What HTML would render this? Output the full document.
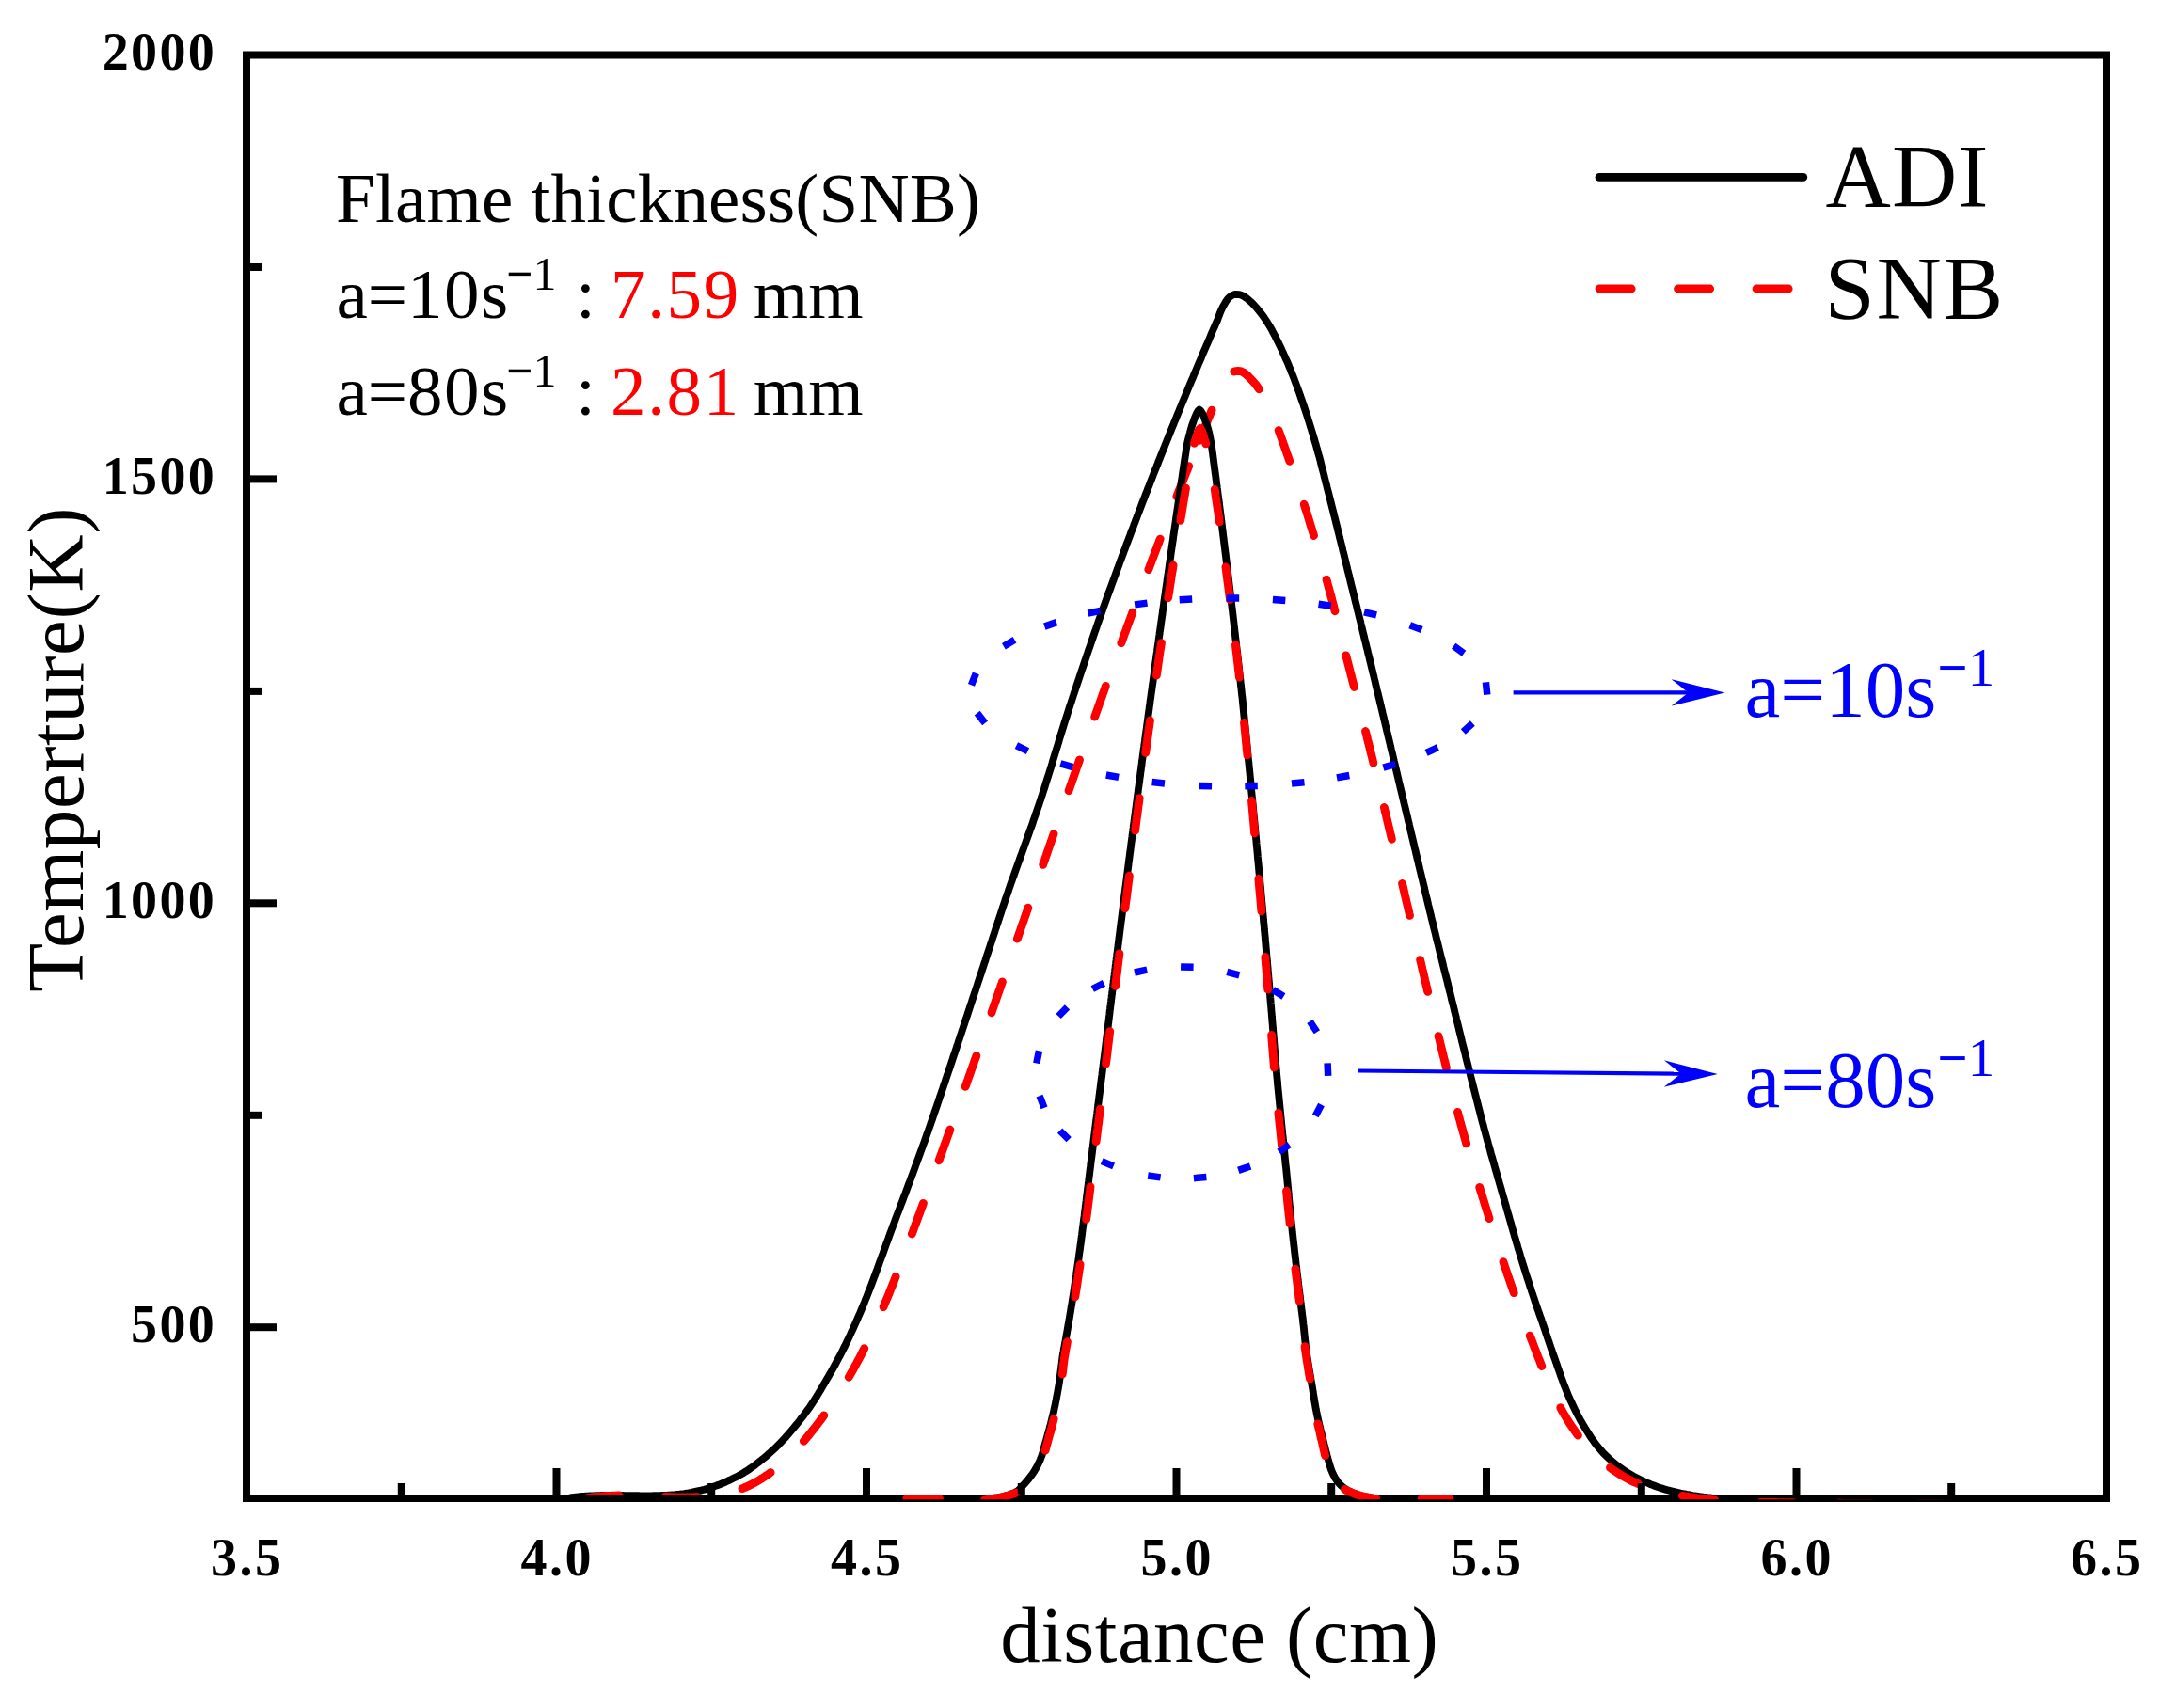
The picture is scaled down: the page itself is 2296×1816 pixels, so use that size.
<!DOCTYPE html>
<html lang="en"><head><meta charset="utf-8"><title>Temperature profiles</title>
<style>html,body{margin:0;padding:0;background:#fff}svg{display:block}text{font-family:"Liberation Serif","Times New Roman",serif}</style></head><body>
<svg xmlns="http://www.w3.org/2000/svg" width="2296" height="1816" viewBox="0 0 2296 1816">
<rect width="2296" height="1816" fill="#fff"/>
<defs><clipPath id="plot"><rect x="258" y="54" width="1985" height="1540.2"/></clipPath><clipPath id="band"><rect x="955" y="1588.4" width="1281" height="5.8"/></clipPath></defs>
<g fill="none" stroke-linejoin="round" clip-path="url(#plot)">
<path d="M262.0 1593.4L599.9 1593.4L601.2 1593.2L603.1 1592.9L605.3 1592.6L607.7 1592.2L610.1 1591.9L612.4 1591.6L614.4 1591.4L616.5 1591.2L618.6 1591.0L620.7 1590.9L622.8 1590.7L624.8 1590.6L626.9 1590.5L629.0 1590.4L631.1 1590.3L633.2 1590.2L635.3 1590.1L637.3 1590.1L639.4 1590.0L641.5 1590.0L643.6 1590.0L645.7 1590.0L647.7 1589.9L649.8 1589.9L651.9 1589.9L654.0 1589.9L656.0 1590.0L658.1 1590.0L660.1 1590.0L662.2 1590.0L664.3 1590.1L666.3 1590.1L668.4 1590.1L670.4 1590.1L672.5 1590.2L674.5 1590.2L676.6 1590.2L678.6 1590.2L680.6 1590.3L682.7 1590.3L684.7 1590.3L686.7 1590.3L688.7 1590.3L690.7 1590.3L692.7 1590.3L694.8 1590.2L696.8 1590.2L698.7 1590.1L701.1 1590.1L703.5 1590.0L705.9 1589.9L708.3 1589.8L710.7 1589.6L713.1 1589.5L715.5 1589.3L717.8 1589.1L720.2 1588.8L722.6 1588.6L724.9 1588.3L727.3 1588.0L729.7 1587.6L732.0 1587.3L734.4 1586.9L736.8 1586.4L739.1 1585.9L741.5 1585.4L743.9 1584.9L746.2 1584.3L748.6 1583.7L751.0 1583.0L753.4 1582.3L755.8 1581.5L758.2 1580.7L760.6 1579.9L763.1 1579.0L765.5 1578.1L767.9 1577.1L770.3 1576.1L772.7 1575.0L775.1 1573.9L777.5 1572.8L779.9 1571.6L782.3 1570.4L784.7 1569.2L787.0 1567.9L789.3 1566.6L791.5 1565.2L793.7 1563.9L795.5 1562.7L797.2 1561.5L799.0 1560.3L800.7 1559.1L802.4 1557.8L804.1 1556.5L805.8 1555.2L807.4 1553.9L809.1 1552.6L810.7 1551.3L812.4 1549.9L814.0 1548.6L815.6 1547.2L817.2 1545.8L818.8 1544.4L820.4 1542.9L822.0 1541.5L823.5 1540.1L825.1 1538.6L826.6 1537.1L828.1 1535.7L829.5 1534.2L830.9 1532.7L832.3 1531.2L833.7 1529.7L835.1 1528.1L836.4 1526.6L837.8 1525.1L839.1 1523.5L840.4 1522.0L841.7 1520.5L843.1 1518.9L844.3 1517.4L845.6 1515.8L846.9 1514.2L848.2 1512.7L849.7 1510.8L851.1 1508.9L852.6 1507.0L854.1 1505.1L855.5 1503.2L856.9 1501.3L858.3 1499.4L859.7 1497.5L861.0 1495.6L862.3 1493.6L863.6 1491.7L864.8 1489.8L866.1 1487.8L867.3 1485.9L868.5 1483.9L869.7 1482.0L870.9 1480.0L872.1 1478.0L873.2 1476.0L874.4 1474.1L875.6 1472.1L876.8 1470.1L877.9 1468.1L879.1 1466.1L880.3 1464.1L881.4 1462.1L882.6 1460.1L883.7 1458.1L884.9 1456.0L886.0 1454.0L887.1 1452.0L888.2 1450.0L889.3 1447.9L890.4 1445.9L891.5 1443.8L892.6 1441.8L893.7 1439.7L894.7 1437.7L895.8 1435.6L896.8 1433.5L897.9 1431.5L898.9 1429.4L899.9 1427.3L900.9 1425.2L901.9 1423.1L902.9 1421.0L903.9 1418.9L904.8 1416.8L905.8 1414.7L906.8 1412.6L907.7 1410.5L908.7 1408.4L909.6 1406.3L910.6 1404.2L911.5 1402.0L912.4 1399.9L913.4 1397.8L914.3 1395.7L915.2 1393.5L916.1 1391.4L917.0 1389.2L917.9 1387.1L918.8 1384.9L919.6 1382.8L920.5 1380.6L921.4 1378.4L922.2 1376.3L923.1 1374.1L923.9 1371.9L924.8 1369.8L925.6 1367.6L926.5 1365.4L927.3 1363.2L928.1 1361.0L928.9 1358.8L929.8 1356.6L930.6 1354.4L931.4 1352.2L932.2 1350.0L933.0 1347.8L933.8 1345.6L934.6 1343.4L935.4 1341.2L936.2 1339.0L937.0 1336.8L937.7 1334.9L938.4 1333.1L939.1 1331.2L939.7 1329.4L940.4 1327.5L941.1 1325.7L941.7 1323.8L942.4 1321.9L943.1 1320.1L943.8 1318.2L944.5 1316.3L945.1 1314.5L945.8 1312.6L946.5 1310.7L947.2 1308.9L947.9 1307.0L948.6 1305.1L949.3 1303.2L950.0 1301.4L950.7 1299.5L951.4 1297.6L952.1 1295.7L952.8 1293.8L953.5 1291.9L954.2 1290.1L955.0 1288.2L955.7 1286.3L956.4 1284.4L957.1 1282.5L957.8 1280.6L958.6 1278.7L959.3 1276.8L960.0 1274.9L960.7 1273.0L961.4 1271.1L962.2 1269.2L962.9 1267.3L963.6 1265.4L964.3 1263.5L965.0 1261.6L965.7 1259.7L966.4 1257.8L967.2 1255.9L967.9 1254.0L968.6 1252.1L969.3 1250.2L970.0 1248.3L970.7 1246.4L971.4 1244.5L972.1 1242.6L972.8 1240.7L973.5 1238.7L974.2 1236.8L974.9 1234.9L975.6 1233.0L976.3 1231.1L977.0 1229.2L977.7 1227.3L978.4 1225.3L979.1 1223.4L979.8 1221.5L980.5 1219.6L981.2 1217.7L981.9 1215.7L982.6 1213.8L983.3 1211.9L983.9 1210.0L984.6 1208.1L985.3 1206.1L986.0 1204.2L986.7 1202.3L987.3 1200.4L988.0 1198.5L988.7 1196.5L989.4 1194.6L990.0 1192.7L990.7 1190.8L991.4 1188.8L992.0 1186.9L992.7 1185.0L993.3 1183.1L994.0 1181.1L994.7 1179.2L995.3 1177.3L996.0 1175.4L996.6 1173.4L997.3 1171.5L997.9 1169.6L998.6 1167.7L999.2 1165.7L999.9 1163.8L1000.6 1161.9L1001.2 1160.0L1001.9 1158.0L1002.5 1156.1L1003.2 1154.2L1003.8 1152.3L1004.5 1150.4L1005.1 1148.4L1005.7 1146.5L1006.4 1144.6L1007.0 1142.7L1007.7 1140.7L1008.3 1138.8L1009.0 1136.9L1009.6 1135.0L1010.3 1133.1L1010.9 1131.1L1011.6 1129.2L1012.2 1127.3L1012.8 1125.4L1013.5 1123.4L1014.1 1121.5L1014.8 1119.6L1015.4 1117.7L1016.0 1115.8L1016.7 1113.9L1017.3 1111.9L1018.0 1110.0L1018.6 1108.1L1019.2 1106.2L1019.9 1104.3L1020.5 1102.3L1021.2 1100.4L1021.8 1098.5L1022.4 1096.6L1023.1 1094.7L1023.7 1092.8L1024.3 1090.8L1025.0 1088.9L1025.6 1087.0L1026.2 1085.1L1026.9 1083.2L1027.5 1081.3L1028.2 1079.4L1028.8 1077.4L1029.4 1075.5L1030.1 1073.6L1030.7 1071.7L1031.3 1069.8L1031.9 1067.9L1032.6 1066.0L1033.2 1064.0L1033.8 1062.1L1034.5 1060.2L1035.1 1058.3L1035.7 1056.4L1036.4 1054.5L1037.0 1052.6L1037.6 1050.7L1038.3 1048.7L1038.9 1046.8L1039.5 1044.9L1040.1 1043.0L1040.8 1041.1L1041.4 1039.2L1042.0 1037.3L1042.7 1035.4L1043.3 1033.5L1043.9 1031.6L1044.5 1029.7L1045.2 1027.7L1045.8 1025.8L1046.4 1023.9L1047.1 1022.0L1047.7 1020.1L1048.3 1018.2L1048.9 1016.3L1049.6 1014.4L1050.2 1012.5L1050.8 1010.6L1051.5 1008.7L1052.1 1006.8L1052.7 1004.9L1053.3 1003.0L1054.0 1001.0L1054.6 999.1L1055.2 997.2L1055.8 995.3L1056.5 993.4L1057.1 991.5L1057.7 989.6L1058.3 987.7L1059.0 985.8L1059.6 983.9L1060.2 982.0L1060.9 980.1L1061.5 978.2L1062.1 976.3L1062.7 974.4L1063.4 972.5L1064.0 970.6L1064.6 968.7L1065.2 966.8L1065.9 964.9L1066.5 963.0L1067.1 961.1L1067.8 959.2L1068.5 956.9L1069.3 954.6L1070.1 952.3L1070.9 950.1L1071.7 947.8L1072.4 945.5L1073.2 943.2L1074.0 940.9L1074.8 938.7L1075.6 936.4L1076.4 934.1L1077.3 931.8L1078.1 929.6L1078.9 927.3L1079.7 925.0L1080.5 922.7L1081.3 920.5L1082.1 918.2L1083.0 915.9L1083.8 913.6L1084.6 911.4L1085.4 909.1L1086.3 906.8L1087.1 904.5L1087.9 902.3L1088.7 900.0L1089.5 897.7L1090.4 895.4L1091.2 893.2L1092.0 890.9L1092.8 888.6L1093.6 886.4L1094.4 884.1L1095.2 881.8L1096.1 879.5L1096.9 877.3L1097.7 875.0L1098.4 872.7L1099.2 870.5L1100.0 868.2L1100.8 865.9L1101.6 863.7L1102.4 861.4L1103.1 859.1L1103.9 856.9L1104.7 854.6L1105.4 852.3L1106.2 850.1L1106.9 847.8L1107.7 845.5L1108.4 843.3L1109.1 841.0L1109.9 838.7L1110.6 836.5L1111.3 834.2L1112.0 831.9L1112.7 829.7L1113.4 827.4L1114.2 825.1L1114.9 822.9L1115.6 820.6L1116.3 818.4L1117.0 816.1L1117.7 813.8L1118.4 811.6L1119.0 809.3L1119.7 807.0L1120.4 804.8L1121.1 802.5L1121.8 800.3L1122.5 798.0L1123.2 795.7L1123.9 793.5L1124.6 791.2L1125.3 789.0L1125.9 786.7L1126.6 784.4L1127.3 782.2L1128.0 779.9L1128.7 777.7L1129.4 775.4L1130.1 773.2L1130.8 770.9L1131.5 768.6L1132.2 766.4L1132.9 764.1L1133.7 761.9L1134.4 759.6L1135.1 757.4L1135.8 755.1L1136.5 752.9L1137.3 750.6L1138.0 748.3L1138.8 746.1L1139.5 743.8L1140.2 741.6L1141.0 739.3L1141.7 737.1L1142.5 734.8L1143.2 732.6L1144.0 730.3L1144.7 728.1L1145.5 725.8L1146.2 723.6L1147.0 721.3L1147.7 719.1L1148.5 716.8L1149.2 714.6L1150.0 712.3L1150.8 710.1L1151.5 707.8L1152.3 705.6L1153.0 703.3L1153.8 701.1L1154.6 698.8L1155.3 696.6L1156.1 694.3L1156.8 692.1L1157.6 689.8L1158.4 687.6L1159.2 685.3L1159.9 683.1L1160.7 680.8L1161.5 678.6L1162.2 676.3L1163.0 674.1L1163.8 671.8L1164.6 669.6L1165.4 667.3L1166.1 665.1L1166.9 662.9L1167.7 660.6L1168.5 658.4L1169.3 656.1L1170.1 653.9L1170.9 651.6L1171.7 649.4L1172.5 647.1L1173.3 644.9L1174.1 642.7L1174.9 640.4L1175.7 638.2L1176.5 635.9L1177.3 633.7L1178.1 631.4L1178.9 629.2L1179.8 627.0L1180.6 624.7L1181.4 622.5L1182.2 620.2L1183.0 618.0L1183.8 615.8L1184.7 613.5L1185.5 611.3L1186.3 609.0L1187.1 606.8L1188.0 604.6L1188.8 602.3L1189.6 600.1L1190.4 597.8L1191.3 595.6L1192.1 593.4L1192.9 591.1L1193.8 588.9L1194.6 586.7L1195.4 584.4L1196.3 582.2L1197.1 579.9L1197.9 577.7L1198.8 575.5L1199.6 573.2L1200.5 571.0L1201.3 568.8L1202.1 566.5L1203.0 564.3L1203.8 562.1L1204.7 559.8L1205.5 557.6L1206.4 555.4L1207.2 553.1L1208.1 550.9L1208.9 548.7L1209.8 546.4L1210.6 544.2L1211.5 542.0L1212.4 539.7L1213.2 537.5L1214.1 535.3L1214.9 533.0L1215.8 530.8L1216.7 528.6L1217.5 526.3L1218.4 524.1L1219.3 521.9L1220.1 519.6L1221.0 517.4L1221.9 515.2L1222.7 512.9L1223.6 510.7L1224.5 508.5L1225.4 506.2L1226.2 504.0L1227.1 501.8L1228.0 499.6L1228.9 497.3L1229.8 495.1L1230.7 492.9L1231.5 490.6L1232.4 488.4L1233.3 486.2L1234.0 484.3L1234.8 482.5L1235.5 480.6L1236.3 478.8L1237.0 476.9L1237.8 475.0L1238.5 473.2L1239.2 471.3L1240.0 469.5L1240.7 467.6L1241.5 465.8L1242.2 463.9L1243.0 462.1L1243.7 460.2L1244.5 458.3L1245.2 456.5L1246.0 454.6L1246.7 452.8L1247.5 450.9L1248.2 449.1L1249.0 447.2L1249.8 445.4L1250.5 443.5L1251.3 441.7L1252.0 439.8L1252.8 438.0L1253.6 436.1L1254.3 434.2L1255.1 432.4L1255.8 430.5L1256.6 428.7L1257.4 426.8L1258.1 425.0L1258.9 423.1L1259.7 421.3L1260.4 419.4L1261.2 417.6L1262.0 415.7L1262.7 413.9L1263.5 412.0L1264.3 410.2L1265.1 408.3L1265.8 406.5L1266.6 404.6L1267.4 402.8L1268.2 400.9L1268.9 399.1L1269.7 397.2L1270.5 395.4L1271.3 393.5L1272.1 391.7L1272.8 389.8L1273.6 388.0L1274.4 386.1L1275.2 384.3L1276.0 382.4L1276.8 380.6L1277.5 378.7L1278.3 376.9L1279.1 375.0L1279.9 373.2L1280.7 371.3L1281.5 369.5L1282.3 367.6L1283.1 365.8L1283.9 363.9L1284.7 362.1L1285.5 360.2L1286.2 358.4L1287.0 356.5L1287.8 354.7L1288.6 352.8L1289.4 351.0L1290.2 349.2L1291.0 347.4L1291.8 345.5L1292.6 343.7L1293.4 341.9L1294.3 339.7L1295.1 337.5L1295.9 335.3L1296.7 333.1L1297.6 331.0L1298.5 328.9L1299.5 326.9L1300.6 324.9L1301.6 323.1L1302.5 321.5L1303.9 319.4L1305.2 317.7L1306.5 316.3L1308.5 314.7L1310.5 313.6L1312.4 313.0L1314.5 312.8L1316.9 313.1L1319.5 313.8L1321.3 314.6L1323.1 315.7L1325.0 317.0L1326.5 318.2L1328.1 319.6L1329.8 321.1L1331.5 322.8L1333.0 324.3L1334.5 326.0L1336.0 327.8L1337.5 329.6L1339.1 331.5L1340.4 333.1L1341.7 334.8L1343.0 336.6L1344.2 338.3L1345.4 340.1L1346.6 341.9L1347.7 343.7L1348.8 345.5L1349.9 347.3L1351.0 349.1L1352.0 350.9L1352.9 352.8L1353.9 354.6L1354.9 356.5L1355.9 358.4L1356.8 360.2L1357.7 362.1L1358.7 364.0L1359.6 365.9L1360.5 367.7L1361.4 369.6L1362.3 371.5L1363.1 373.3L1364.0 375.2L1364.8 377.1L1365.7 379.0L1366.5 380.8L1367.3 382.7L1368.2 384.6L1369.0 386.5L1369.8 388.3L1370.5 390.2L1371.3 392.1L1372.1 394.0L1372.8 395.9L1373.6 397.7L1374.3 399.6L1375.1 401.5L1375.8 403.4L1376.5 405.3L1377.2 407.1L1377.9 409.0L1378.6 410.9L1379.3 412.8L1380.0 414.7L1380.7 416.6L1381.4 418.4L1382.0 420.3L1382.8 422.6L1383.6 424.9L1384.4 427.1L1385.2 429.4L1385.9 431.6L1386.7 433.9L1387.4 436.2L1388.2 438.4L1388.9 440.7L1389.7 443.0L1390.4 445.3L1391.1 447.5L1391.8 449.8L1392.5 452.1L1393.2 454.3L1393.9 456.6L1394.6 458.9L1395.3 461.2L1396.0 463.4L1396.7 465.7L1397.3 468.0L1398.0 470.3L1398.7 472.5L1399.3 474.8L1400.0 477.1L1400.6 479.4L1401.2 481.7L1401.8 483.9L1402.5 486.2L1403.1 488.5L1403.7 490.8L1404.2 493.1L1404.8 495.4L1405.4 497.6L1406.0 499.9L1406.6 502.2L1407.2 504.5L1407.7 506.8L1408.3 509.1L1408.9 511.4L1409.5 513.7L1410.1 515.9L1410.6 518.2L1411.2 520.5L1411.8 522.8L1412.4 525.1L1413.0 527.4L1413.6 529.7L1414.2 532.0L1414.7 534.3L1415.3 536.6L1415.9 538.9L1416.5 541.2L1417.1 543.5L1417.6 545.8L1418.2 548.1L1418.8 550.4L1419.4 552.7L1419.9 555.0L1420.5 557.3L1421.1 559.6L1421.7 561.9L1422.2 564.2L1422.8 566.5L1423.4 568.8L1423.9 571.1L1424.5 573.4L1425.1 575.7L1425.6 578.0L1426.2 580.3L1426.8 582.6L1427.3 584.9L1427.9 587.2L1428.5 589.5L1429.0 591.8L1429.6 594.1L1430.2 596.5L1430.7 598.8L1431.3 601.1L1431.9 603.4L1432.4 605.7L1433.0 608.0L1433.6 610.3L1434.1 612.6L1434.7 614.9L1435.3 617.3L1435.8 619.6L1436.4 621.9L1437.0 624.2L1437.6 626.5L1438.1 628.8L1438.7 631.2L1439.3 633.5L1439.9 635.8L1440.4 638.1L1441.0 640.4L1441.6 642.7L1442.2 645.1L1442.7 647.4L1443.3 649.7L1443.9 652.0L1444.4 654.3L1445.0 656.7L1445.6 659.0L1446.2 661.3L1446.7 663.6L1447.3 666.0L1447.9 668.3L1448.4 670.6L1449.0 672.9L1449.6 675.3L1450.1 677.6L1450.7 679.9L1451.3 682.2L1451.9 684.6L1452.4 686.9L1453.0 689.2L1453.6 691.5L1454.1 693.9L1454.7 696.2L1455.2 698.1L1455.6 700.1L1456.1 702.0L1456.6 704.0L1457.1 705.9L1457.5 707.8L1458.0 709.8L1458.5 711.7L1458.9 713.7L1459.4 715.6L1459.9 717.6L1460.4 719.5L1460.8 721.4L1461.3 723.4L1461.8 725.3L1462.2 727.3L1462.7 729.2L1463.2 731.2L1463.6 733.1L1464.1 735.1L1464.6 737.0L1465.1 738.9L1465.5 740.9L1466.0 742.8L1466.5 744.8L1466.9 746.7L1467.4 748.7L1467.9 750.6L1468.3 752.6L1468.8 754.5L1469.3 756.5L1469.7 758.4L1470.2 760.4L1470.7 762.3L1471.1 764.3L1471.6 766.2L1472.1 768.2L1472.5 770.1L1473.0 772.1L1473.5 774.0L1473.9 776.0L1474.4 777.9L1474.9 779.9L1475.3 781.8L1475.8 783.8L1476.3 785.7L1476.7 787.7L1477.2 789.6L1477.7 791.6L1478.1 793.5L1478.6 795.5L1479.0 797.4L1479.5 799.4L1480.0 801.3L1480.4 803.3L1480.9 805.2L1481.4 807.2L1481.8 809.1L1482.3 811.1L1482.8 813.0L1483.2 815.0L1483.7 817.0L1484.2 818.9L1484.6 820.9L1485.1 822.8L1485.5 824.8L1486.0 826.7L1486.5 828.7L1486.9 830.6L1487.4 832.6L1487.9 834.6L1488.3 836.5L1488.8 838.5L1489.3 840.4L1489.7 842.4L1490.2 844.3L1490.7 846.3L1491.1 848.2L1491.6 850.2L1492.1 852.2L1492.5 854.1L1493.0 856.1L1493.5 858.0L1493.9 860.0L1494.4 861.9L1494.9 863.9L1495.3 865.9L1495.8 867.8L1496.3 869.8L1496.7 871.7L1497.2 873.7L1497.7 875.6L1498.1 877.6L1498.6 879.6L1499.1 881.5L1499.5 883.5L1500.0 885.4L1500.5 887.4L1500.9 889.4L1501.4 891.3L1501.9 893.3L1502.3 895.2L1502.8 897.2L1503.3 899.2L1503.7 901.1L1504.2 903.1L1504.7 905.0L1505.1 907.0L1505.6 909.0L1506.1 910.9L1506.5 912.9L1507.0 914.8L1507.5 916.8L1507.9 918.8L1508.4 920.7L1508.9 922.7L1509.3 924.6L1509.8 926.6L1510.3 928.6L1510.7 930.5L1511.2 932.5L1511.7 934.4L1512.2 936.4L1512.6 938.4L1513.1 940.3L1513.6 942.3L1514.0 944.3L1514.5 946.2L1515.0 948.2L1515.4 950.1L1515.9 952.1L1516.4 954.1L1516.8 956.0L1517.3 958.0L1517.8 960.0L1518.2 961.9L1518.7 963.9L1519.2 965.8L1519.6 967.8L1520.1 969.8L1520.6 971.7L1521.1 973.7L1521.5 975.6L1522.0 977.6L1522.5 979.6L1523.0 981.5L1523.4 983.5L1523.9 985.5L1524.4 987.4L1524.9 989.4L1525.4 991.4L1525.9 993.3L1526.3 995.3L1526.8 997.2L1527.3 999.2L1527.8 1001.2L1528.3 1003.1L1528.8 1005.1L1529.3 1007.1L1529.7 1009.0L1530.2 1011.0L1530.7 1012.9L1531.2 1014.9L1531.7 1016.9L1532.2 1018.8L1532.7 1020.8L1533.2 1022.8L1533.7 1024.7L1534.2 1026.7L1534.6 1028.6L1535.1 1030.6L1535.6 1032.6L1536.1 1034.5L1536.6 1036.5L1537.1 1038.5L1537.6 1040.4L1538.1 1042.4L1538.6 1044.3L1539.0 1046.3L1539.5 1048.3L1540.0 1050.2L1540.5 1052.2L1541.0 1054.2L1541.5 1056.1L1542.0 1058.1L1542.5 1060.1L1542.9 1062.0L1543.4 1064.0L1543.9 1065.9L1544.4 1067.9L1544.9 1069.9L1545.4 1071.8L1545.8 1073.8L1546.3 1075.8L1546.8 1077.7L1547.3 1079.7L1547.8 1081.6L1548.2 1083.6L1548.7 1085.6L1549.2 1087.5L1549.7 1089.5L1550.2 1091.5L1550.7 1093.4L1551.1 1095.4L1551.6 1097.3L1552.1 1099.3L1552.6 1101.3L1553.1 1103.2L1553.6 1105.2L1554.0 1107.1L1554.5 1109.1L1555.0 1111.1L1555.5 1113.0L1556.0 1115.0L1556.5 1117.0L1557.0 1118.9L1557.5 1120.9L1557.9 1122.8L1558.4 1124.8L1558.9 1126.8L1559.4 1128.7L1559.9 1130.7L1560.4 1132.6L1560.9 1134.6L1561.4 1136.6L1561.9 1138.5L1562.4 1140.5L1562.9 1142.4L1563.3 1144.4L1563.8 1146.4L1564.3 1148.3L1564.8 1150.3L1565.3 1152.2L1565.8 1154.2L1566.3 1156.2L1566.8 1158.1L1567.3 1160.1L1567.8 1162.0L1568.3 1164.0L1568.8 1166.0L1569.3 1167.9L1569.8 1169.9L1570.3 1171.8L1570.8 1173.8L1571.3 1175.7L1571.8 1177.7L1572.3 1179.7L1572.8 1181.6L1573.3 1183.6L1573.8 1185.5L1574.3 1187.5L1574.8 1189.4L1575.3 1191.4L1575.8 1193.4L1576.4 1195.3L1576.9 1197.3L1577.4 1199.2L1577.9 1201.2L1578.5 1203.1L1579.0 1205.1L1579.5 1207.1L1580.1 1209.0L1580.6 1211.0L1581.1 1212.9L1581.7 1214.9L1582.2 1216.8L1582.8 1218.8L1583.3 1220.7L1583.9 1222.7L1584.4 1224.7L1584.9 1226.6L1585.5 1228.6L1586.1 1230.5L1586.6 1232.5L1587.2 1234.4L1587.7 1236.4L1588.3 1238.3L1588.8 1240.3L1589.4 1242.2L1589.9 1244.2L1590.5 1246.1L1591.1 1248.1L1591.6 1250.1L1592.2 1252.0L1592.7 1254.0L1593.3 1255.9L1593.8 1257.9L1594.4 1259.8L1595.0 1261.8L1595.5 1263.7L1596.1 1265.7L1596.6 1267.6L1597.2 1269.6L1597.7 1271.5L1598.3 1273.5L1598.9 1275.4L1599.4 1277.3L1600.0 1279.3L1600.5 1281.2L1601.1 1283.2L1601.6 1285.1L1602.2 1287.1L1602.7 1289.0L1603.3 1291.0L1603.8 1292.9L1604.4 1294.9L1604.9 1296.8L1605.5 1298.7L1606.0 1300.7L1606.6 1302.6L1607.1 1304.6L1607.7 1306.5L1608.2 1308.4L1608.8 1310.4L1609.4 1312.3L1609.9 1314.3L1610.5 1316.2L1611.1 1318.1L1611.6 1320.1L1612.2 1322.0L1612.8 1323.9L1613.3 1325.9L1613.9 1327.8L1614.5 1329.7L1615.1 1331.7L1615.7 1333.6L1616.2 1335.5L1616.8 1337.5L1617.4 1339.4L1618.0 1341.3L1618.6 1343.3L1619.2 1345.2L1619.8 1347.1L1620.4 1349.0L1621.0 1351.0L1621.6 1352.9L1622.2 1354.8L1622.8 1356.7L1623.4 1358.7L1624.1 1360.6L1624.7 1362.5L1625.3 1364.4L1625.9 1366.3L1626.5 1368.3L1627.2 1370.2L1627.8 1372.1L1628.4 1374.0L1629.1 1375.9L1629.7 1377.8L1630.3 1379.7L1631.0 1381.6L1631.6 1383.6L1632.3 1385.5L1632.9 1387.4L1633.6 1389.3L1634.2 1391.2L1634.9 1393.1L1635.6 1395.0L1636.2 1396.9L1636.9 1398.8L1637.6 1400.7L1638.3 1402.6L1638.9 1404.5L1639.6 1406.4L1640.2 1408.3L1640.9 1410.2L1641.5 1412.1L1642.2 1414.0L1642.8 1415.9L1643.4 1417.8L1644.1 1419.6L1644.7 1421.5L1645.3 1423.4L1646.0 1425.3L1646.6 1427.2L1647.3 1429.1L1647.9 1431.0L1648.5 1432.8L1649.2 1434.7L1649.8 1436.6L1650.5 1438.5L1651.2 1440.4L1651.8 1442.2L1652.5 1444.1L1653.2 1446.0L1653.8 1447.8L1654.5 1449.7L1655.1 1451.6L1655.8 1453.5L1656.4 1455.3L1657.1 1457.2L1657.7 1459.0L1658.4 1460.9L1659.0 1462.8L1659.7 1464.6L1660.4 1466.5L1661.1 1468.3L1661.7 1470.2L1662.4 1472.0L1663.1 1473.9L1663.9 1475.7L1664.6 1477.5L1665.3 1479.3L1666.1 1481.2L1666.8 1483.0L1667.6 1484.8L1668.4 1486.6L1669.2 1488.4L1670.2 1490.5L1671.2 1492.7L1672.2 1494.8L1673.2 1496.9L1674.2 1499.0L1675.3 1501.1L1676.3 1503.1L1677.4 1505.2L1678.5 1507.3L1679.6 1509.3L1680.7 1511.3L1681.9 1513.3L1683.0 1515.3L1684.2 1517.2L1685.4 1519.2L1686.6 1521.1L1687.8 1523.0L1689.0 1524.9L1690.2 1526.8L1691.4 1528.7L1692.7 1530.5L1694.0 1532.3L1695.3 1534.1L1696.7 1535.9L1698.0 1537.6L1699.4 1539.3L1700.9 1541.0L1702.3 1542.7L1703.8 1544.4L1705.4 1546.0L1707.0 1547.6L1708.6 1549.1L1710.2 1550.7L1711.9 1552.2L1713.6 1553.7L1715.3 1555.2L1717.1 1556.6L1718.9 1558.0L1720.7 1559.4L1722.5 1560.7L1724.3 1562.0L1726.2 1563.3L1728.1 1564.5L1730.1 1565.8L1732.0 1567.0L1734.0 1568.1L1736.0 1569.3L1738.0 1570.4L1740.1 1571.5L1742.1 1572.5L1744.2 1573.5L1746.3 1574.5L1748.4 1575.5L1750.6 1576.5L1752.8 1577.4L1754.9 1578.3L1757.1 1579.1L1759.4 1580.0L1761.6 1580.8L1763.9 1581.6L1765.7 1582.2L1767.6 1582.8L1769.6 1583.4L1771.5 1584.0L1773.6 1584.5L1775.6 1585.1L1777.7 1585.6L1779.8 1586.1L1781.9 1586.6L1784.1 1587.1L1786.2 1587.6L1788.4 1588.0L1790.6 1588.4L1792.8 1588.9L1794.9 1589.2L1797.1 1589.6L1799.3 1590.0L1801.5 1590.3L1803.8 1590.7L1806.0 1591.0L1808.2 1591.3L1810.5 1591.6L1812.8 1591.8L1815.0 1592.1L1817.3 1592.3L1819.6 1592.6L1821.9 1592.8L1824.1 1593.0L1826.4 1593.2L1828.7 1593.4L1831.0 1593.6L1833.2 1593.7L1835.5 1593.9L1837.7 1594.0L1840.0 1594.1L1842.2 1594.3L1844.4 1594.4L1846.7 1594.5L1848.9 1594.6L1851.1 1594.7L1853.3 1594.7L1855.5 1594.8L1857.7 1594.9L1859.9 1594.9L1862.1 1595.0L1864.3 1595.0L1866.4 1595.1L1868.6 1595.1L1870.7 1595.1L1872.9 1595.2L1875.0 1595.2L1877.2 1595.2L1879.3 1595.2L1881.4 1595.2L1883.6 1595.3L1885.7 1595.3L1887.8 1595.3L1889.9 1595.3L1892.0 1595.3L1894.1 1595.3L1896.2 1595.3L1898.3 1595.3L1900.4 1595.3L1902.4 1595.3L1904.5 1595.3L1906.6 1595.3L1908.7 1595.4L1910.7 1595.4L1912.8 1595.4L1914.8 1595.4L1916.9 1595.4L1918.9 1595.5L1921.4 1595.5L1923.9 1595.6L1926.3 1595.6L1928.7 1595.7L1931.2 1595.8L1933.6 1595.9L1936.1 1595.9L1938.4 1596.0L1940.7 1596.2L1943.0 1596.3L1945.3 1596.4L1947.6 1596.6L1949.8 1596.8L1952.0 1596.9L1954.2 1597.1L1956.6 1597.4L1959.1 1597.7L1961.5 1598.0L1963.5 1598.2L1965.0 1598.4L2239.0 1600.0" stroke="#000" stroke-width="7.8"/>
<path d="M262.0 1593.4L619.9 1593.4L621.2 1593.1L623.1 1592.9L625.3 1592.5L627.6 1592.2L630.0 1591.8L632.1 1591.5L634.2 1591.3L636.2 1591.1L638.3 1590.9L640.4 1590.8L642.4 1590.6L644.5 1590.5L646.5 1590.4L648.6 1590.3L650.7 1590.2L652.7 1590.1L654.8 1590.1L656.9 1590.0L658.9 1590.0L661.0 1590.0L663.1 1590.0L665.1 1590.0L667.2 1590.0L669.3 1590.1L671.4 1590.1L673.4 1590.1L675.5 1590.2L677.6 1590.3L679.6 1590.3L681.7 1590.4L683.8 1590.5L685.8 1590.5L687.9 1590.6L690.0 1590.7L692.0 1590.8L694.1 1590.9L696.1 1591.0L698.2 1591.1L700.2 1591.1L702.3 1591.2L704.3 1591.3L706.4 1591.4L708.4 1591.5L710.5 1591.5L712.5 1591.6L714.5 1591.7L716.6 1591.7L718.6 1591.8L720.6 1591.8L722.6 1591.8L724.6 1591.9L726.7 1591.9L728.7 1591.9L730.7 1591.9L733.1 1591.9L735.4 1591.8L737.8 1591.7L740.2 1591.7L742.6 1591.6L744.9 1591.4L747.3 1591.3L749.6 1591.1L751.9 1590.9L754.3 1590.7L756.6 1590.4L758.9 1590.1L761.2 1589.8L763.4 1589.5L765.7 1589.1L768.0 1588.6L770.2 1588.2L772.4 1587.7L774.7 1587.2L776.9 1586.6L779.1 1586.0L781.3 1585.3L783.4 1584.6L785.6 1583.9L787.8 1583.1L789.9 1582.3L792.0 1581.4L794.1 1580.5L796.2 1579.5L798.3 1578.5L800.4 1577.4L802.4 1576.3L804.5 1575.2L806.5 1574.0L808.5 1572.8L810.5 1571.5L812.5 1570.3L814.4 1568.9L816.4 1567.6L818.3 1566.2L819.9 1565.0L821.5 1563.8L823.1 1562.5L824.7 1561.3L826.3 1560.0L827.8 1558.7L829.4 1557.4L830.9 1556.0L832.5 1554.7L834.0 1553.3L835.5 1551.9L837.0 1550.5L838.5 1549.0L840.0 1547.6L841.4 1546.1L842.9 1544.7L844.3 1543.2L845.8 1541.7L847.2 1540.1L848.6 1538.6L850.0 1537.1L851.4 1535.5L852.8 1533.9L854.2 1532.4L855.6 1530.8L857.0 1529.2L858.3 1527.6L859.7 1526.0L861.0 1524.3L862.3 1522.7L863.6 1521.1L864.9 1519.4L866.2 1517.8L867.5 1516.1L868.8 1514.5L870.0 1512.8L871.3 1511.1L872.5 1509.5L873.8 1507.8L875.0 1506.1L876.2 1504.4L877.4 1502.8L878.6 1501.1L879.8 1499.4L881.0 1497.7L882.1 1496.0L883.3 1494.3L884.4 1492.6L885.6 1491.0L886.7 1489.3L887.8 1487.6L888.9 1485.9L890.0 1484.2L891.1 1482.5L892.2 1480.8L893.3 1479.1L894.3 1477.4L895.4 1475.6L896.4 1473.9L897.5 1472.2L898.7 1470.2L900.0 1468.1L901.2 1466.0L902.4 1464.0L903.6 1461.9L904.8 1459.8L905.9 1457.8L907.1 1455.7L908.2 1453.6L909.4 1451.5L910.5 1449.5L911.6 1447.4L912.8 1445.3L913.9 1443.2L915.0 1441.1L916.0 1439.0L917.1 1436.9L918.2 1434.8L919.2 1432.7L920.3 1430.6L921.3 1428.5L922.4 1426.4L923.4 1424.3L924.4 1422.2L925.4 1420.1L926.4 1417.9L927.4 1415.8L928.4 1413.7L929.4 1411.6L930.3 1409.5L931.3 1407.3L932.3 1405.2L933.2 1403.1L934.2 1400.9L935.1 1398.8L936.0 1396.7L937.0 1394.5L937.9 1392.4L938.8 1390.2L939.7 1388.1L940.6 1385.9L941.5 1383.8L942.4 1381.6L943.3 1379.5L944.2 1377.3L945.1 1375.2L945.9 1373.0L946.8 1370.8L947.7 1368.7L948.6 1366.5L949.4 1364.3L950.3 1362.2L951.1 1360.0L952.0 1357.8L952.8 1355.6L953.7 1353.5L954.5 1351.3L955.4 1349.1L956.2 1346.9L957.0 1344.7L957.9 1342.5L958.7 1340.4L959.5 1338.2L960.4 1336.0L961.2 1333.8L962.0 1331.6L962.9 1329.4L963.7 1327.2L964.5 1325.0L965.3 1322.8L966.1 1320.6L967.0 1318.4L967.8 1316.2L968.6 1314.0L969.4 1311.8L970.3 1309.5L971.1 1307.3L971.9 1305.1L972.7 1302.9L973.6 1300.7L974.4 1298.5L975.2 1296.2L976.0 1294.0L976.8 1291.8L977.7 1289.6L978.5 1287.3L979.3 1285.1L980.1 1282.9L980.9 1280.7L981.8 1278.4L982.6 1276.2L983.4 1274.0L984.2 1271.7L985.1 1269.5L985.9 1267.2L986.7 1265.0L987.5 1262.8L988.3 1260.5L989.2 1258.3L990.0 1256.0L990.8 1253.8L991.6 1251.5L992.4 1249.3L993.3 1247.0L994.1 1244.8L994.9 1242.5L995.7 1240.3L996.5 1238.0L997.3 1235.8L998.2 1233.5L998.8 1231.6L999.5 1229.7L1000.2 1227.8L1000.9 1226.0L1001.6 1224.1L1002.3 1222.2L1002.9 1220.3L1003.6 1218.4L1004.3 1216.5L1005.0 1214.6L1005.7 1212.8L1006.3 1210.9L1007.0 1209.0L1007.7 1207.1L1008.4 1205.2L1009.1 1203.3L1009.7 1201.4L1010.4 1199.5L1011.1 1197.6L1011.8 1195.7L1012.5 1193.8L1013.1 1191.9L1013.8 1190.0L1014.5 1188.1L1015.2 1186.2L1015.9 1184.3L1016.5 1182.4L1017.2 1180.5L1017.9 1178.6L1018.6 1176.7L1019.3 1174.8L1019.9 1172.9L1020.6 1171.0L1021.3 1169.1L1022.0 1167.2L1022.7 1165.3L1023.3 1163.4L1024.0 1161.5L1024.7 1159.6L1025.4 1157.7L1026.0 1155.8L1026.7 1153.9L1027.4 1152.0L1028.1 1150.1L1028.8 1148.1L1029.4 1146.2L1030.1 1144.3L1030.8 1142.4L1031.5 1140.5L1032.1 1138.6L1032.8 1136.7L1033.5 1134.8L1034.2 1132.9L1034.9 1131.0L1035.5 1129.0L1036.2 1127.1L1036.9 1125.2L1037.6 1123.3L1038.2 1121.4L1038.9 1119.5L1039.6 1117.6L1040.3 1115.6L1040.9 1113.7L1041.6 1111.8L1042.3 1109.9L1043.0 1108.0L1043.6 1106.1L1044.3 1104.1L1045.0 1102.2L1045.7 1100.3L1046.3 1098.4L1047.0 1096.5L1047.7 1094.6L1048.4 1092.6L1049.0 1090.7L1049.7 1088.8L1050.4 1086.9L1051.1 1085.0L1051.7 1083.0L1052.4 1081.1L1053.1 1079.2L1053.8 1077.3L1054.4 1075.4L1055.1 1073.4L1055.8 1071.5L1056.4 1069.6L1057.1 1067.7L1057.8 1065.8L1058.5 1063.8L1059.1 1061.9L1059.8 1060.0L1060.5 1058.1L1061.1 1056.2L1061.8 1054.2L1062.5 1052.3L1063.2 1050.4L1063.8 1048.5L1064.5 1046.6L1065.2 1044.6L1065.8 1042.7L1066.5 1040.8L1067.2 1038.9L1067.9 1037.0L1068.5 1035.0L1069.2 1033.1L1069.9 1031.2L1070.5 1029.3L1071.2 1027.4L1071.9 1025.4L1072.5 1023.5L1073.2 1021.6L1073.9 1019.7L1074.6 1017.7L1075.2 1015.8L1075.9 1013.9L1076.6 1012.0L1077.2 1010.1L1077.9 1008.1L1078.6 1006.2L1079.2 1004.3L1079.9 1002.4L1080.6 1000.5L1081.2 998.5L1081.9 996.6L1082.6 994.7L1083.2 992.8L1083.9 990.9L1084.6 989.0L1085.2 987.0L1085.9 985.1L1086.6 983.2L1087.2 981.3L1087.9 979.4L1088.6 977.4L1089.2 975.5L1089.9 973.6L1090.6 971.7L1091.2 969.8L1091.9 967.9L1092.6 965.9L1093.2 964.0L1093.9 962.1L1094.6 960.2L1095.2 958.3L1095.9 956.4L1096.6 954.5L1097.2 952.5L1097.9 950.6L1098.5 948.7L1099.2 946.8L1099.9 944.9L1100.5 943.0L1101.2 941.1L1101.9 939.2L1102.5 937.3L1103.2 935.3L1103.8 933.4L1104.5 931.5L1105.2 929.6L1105.8 927.7L1106.5 925.8L1107.2 923.9L1107.8 922.0L1108.5 920.1L1109.1 918.2L1109.8 916.3L1110.5 914.4L1111.1 912.5L1111.8 910.6L1112.4 908.7L1113.1 906.7L1113.8 904.8L1114.4 902.9L1115.1 901.0L1115.7 899.1L1116.4 897.2L1117.1 895.3L1117.7 893.4L1118.4 891.5L1119.0 889.6L1119.7 887.7L1120.4 885.8L1121.0 883.9L1121.7 882.0L1122.3 880.2L1123.0 878.3L1123.7 876.4L1124.3 874.5L1125.0 872.6L1125.6 870.7L1126.3 868.8L1127.0 866.9L1127.6 865.0L1128.3 863.1L1128.9 861.2L1129.6 859.3L1130.2 857.4L1130.9 855.5L1131.6 853.6L1132.2 851.7L1132.9 849.9L1133.5 848.0L1134.2 846.1L1134.9 844.2L1135.6 841.9L1136.4 839.7L1137.2 837.4L1138.0 835.1L1138.8 832.9L1139.6 830.6L1140.4 828.3L1141.2 826.1L1142.0 823.8L1142.8 821.5L1143.6 819.3L1144.3 817.0L1145.1 814.8L1145.9 812.5L1146.7 810.2L1147.5 808.0L1148.3 805.7L1149.1 803.5L1149.9 801.2L1150.7 798.9L1151.5 796.7L1152.3 794.4L1153.1 792.2L1153.9 789.9L1154.7 787.7L1155.5 785.4L1156.3 783.1L1157.0 780.9L1157.8 778.6L1158.6 776.4L1159.4 774.1L1160.2 771.9L1161.0 769.6L1161.8 767.4L1162.6 765.1L1163.4 762.9L1164.2 760.6L1165.0 758.4L1165.8 756.1L1166.6 753.9L1167.4 751.6L1168.2 749.4L1169.0 747.1L1169.8 744.9L1170.6 742.6L1171.4 740.4L1172.2 738.1L1173.0 735.9L1173.8 733.6L1174.6 731.4L1175.4 729.1L1176.2 726.9L1177.1 724.6L1177.9 722.4L1178.7 720.2L1179.5 717.9L1180.3 715.7L1181.1 713.4L1181.9 711.2L1182.7 708.9L1183.5 706.7L1184.3 704.4L1185.1 702.2L1185.9 700.0L1186.8 697.7L1187.6 695.5L1188.4 693.2L1189.2 691.0L1190.0 688.7L1190.8 686.5L1191.6 684.3L1192.5 682.0L1193.3 679.8L1194.1 677.5L1194.9 675.3L1195.7 673.1L1196.6 670.8L1197.4 668.6L1198.2 666.3L1199.0 664.1L1199.9 661.8L1200.7 659.6L1201.5 657.4L1202.3 655.1L1203.2 652.9L1204.0 650.6L1204.8 648.4L1205.6 646.2L1206.5 643.9L1207.3 641.7L1208.1 639.5L1209.0 637.2L1209.8 635.0L1210.6 632.7L1211.5 630.5L1212.3 628.3L1213.1 626.0L1214.0 623.8L1214.8 621.5L1215.7 619.3L1216.5 617.1L1217.3 614.8L1218.2 612.6L1219.0 610.3L1219.9 608.1L1220.7 605.9L1221.6 603.6L1222.4 601.4L1223.3 599.2L1224.1 596.9L1224.9 594.7L1225.8 592.4L1226.7 590.2L1227.5 588.0L1228.4 585.7L1229.2 583.5L1230.1 581.2L1230.9 579.0L1231.8 576.8L1232.6 574.5L1233.5 572.3L1234.4 570.1L1235.2 567.8L1236.1 565.6L1237.0 563.3L1237.7 561.5L1238.4 559.6L1239.1 557.7L1239.9 555.9L1240.6 554.0L1241.3 552.1L1242.0 550.3L1242.8 548.4L1243.5 546.5L1244.2 544.7L1245.0 542.8L1245.7 540.9L1246.4 539.1L1247.1 537.2L1247.9 535.3L1248.6 533.5L1249.4 531.6L1250.1 529.7L1250.8 527.9L1251.6 526.0L1252.3 524.1L1253.0 522.3L1253.8 520.4L1254.5 518.5L1255.3 516.7L1256.0 514.8L1256.8 512.9L1257.5 511.1L1258.2 509.2L1259.0 507.3L1259.7 505.5L1260.5 503.6L1261.2 501.7L1262.0 499.9L1262.7 498.0L1263.5 496.1L1264.3 494.2L1265.0 492.4L1265.8 490.5L1266.5 488.6L1267.3 486.8L1268.0 484.9L1268.8 483.0L1269.6 481.2L1270.2 479.6" stroke="#f00" stroke-width="8.8" stroke-dasharray="34.80 48.53" stroke-dashoffset="55.03" stroke-linecap="round"/>
<path d="M1270.2 479.6L1270.3 479.3L1271.1 477.4L1271.8 475.5L1272.6 473.7L1273.4 471.8L1274.1 469.9L1274.9 468.1L1275.7 466.2L1276.5 464.3L1277.2 462.4L1278.0 460.6L1278.8 458.7L1279.5 456.8L1280.3 455.0L1281.1 453.1L1281.9 451.2L1282.7 449.3L1283.4 447.5L1284.2 445.6L1285.0 443.7L1285.8 441.8L1286.6 440.0L1287.3 438.2L1288.0 436.5L1288.7 434.8L1289.5 433.0L1290.3 431.0L1291.3 428.8L1292.0 427.1L1292.9 425.2L1293.7 423.1L1294.6 420.9L1295.6 418.8L1296.5 416.6L1297.4 414.6L1298.2 412.7L1299.0 411.0L1300.2 408.3L1301.4 406.0L1302.4 403.9L1303.5 402.1L1304.5 400.5L1306.1 398.4L1307.7 397.1L1309.5 396.0L1311.6 395.1L1313.8 394.6L1316.0 394.4L1318.0 394.6L1319.9 395.1L1322.0 396.2L1323.7 397.4L1325.4 398.8L1327.2 400.5L1329.2 402.5L1330.5 403.9L1331.8 405.3L1333.2 406.9L1334.7 408.6L1336.2 410.7L1337.8 413.0L1338.7 414.5L1339.8 416.2L1340.8 418.0L1342.0 419.9L1343.1 422.0L1344.2 424.0L1345.3 426.0L1346.4 427.9L1347.3 429.8L1348.2 431.5L1349.0 433.0L1350.2 435.4L1351.2 437.3L1352.0 439.1L1352.6 440.7L1353.3 442.3L1354.0 444.1L1354.8 446.0L1355.5 447.8L1356.2 449.7L1356.9 451.6L1357.6 453.5L1358.3 455.4L1359.0 457.3L1359.7 459.2L1360.4 461.1L1361.1 463.0L1361.8 464.8L1362.4 466.7L1363.1 468.6L1363.8 470.5L1364.5 472.4L1365.2 474.3L1365.8 476.2L1366.5 478.1L1367.2 480.0L1367.8 481.9L1368.5 483.8L1369.2 485.6L1369.8 487.5L1370.5 489.4L1371.2 491.3L1371.8 493.2L1372.5 495.1L1373.1 497.0L1373.8 498.9L1374.4 500.8L1375.1 502.7L1375.7 504.6L1376.4 506.5L1377.0 508.4L1377.6 510.3L1378.3 512.2L1378.9 514.1L1379.6 516.0L1380.2 517.9L1380.8 519.8L1381.5 521.7L1382.1 523.6L1382.7 525.5L1383.3 527.4L1384.0 529.3L1384.6 531.2L1385.2 533.1L1385.8 535.0L1386.4 536.9L1387.0 538.8L1387.6 540.7L1388.3 542.6L1388.9 544.5L1389.5 546.4L1390.2 548.7L1390.9 551.0L1391.6 553.3L1392.3 555.6L1393.0 557.9L1393.7 560.2L1394.4 562.4L1395.1 564.7L1395.8 567.0L1396.5 569.3L1397.2 571.6L1397.9 573.9L1398.5 576.2L1399.2 578.5L1399.9 580.8L1400.5 583.1L1401.2 585.4L1401.9 587.7L1402.5 590.0L1403.2 592.2L1403.9 594.5L1404.5 596.8L1405.2 599.1L1405.8 601.4L1406.5 603.7L1407.1 606.0L1407.8 608.3L1408.4 610.6L1409.1 612.9L1409.7 615.2L1410.3 617.5L1411.0 619.8L1411.6 622.1L1412.2 624.4L1412.9 626.7L1413.5 629.0L1414.1 631.3L1414.8 633.6L1415.4 635.9L1416.0 638.3L1416.6 640.6L1417.2 642.9L1417.8 645.2L1418.4 647.5L1419.0 649.8L1419.6 652.1L1420.2 654.4L1420.8 656.7L1421.4 659.0L1421.9 661.3L1422.5 663.6L1423.1 665.9L1423.7 668.2L1424.2 670.6L1424.8 672.9L1425.4 675.2L1425.9 677.5L1426.5 679.8L1427.1 682.1L1427.6 684.4L1428.2 686.7L1428.8 689.0L1429.4 691.4L1429.9 693.7L1430.5 696.0L1431.1 698.3L1431.7 700.6L1432.3 702.9L1432.9 705.2L1433.5 707.6L1434.1 709.9L1434.7 712.2L1435.3 714.5L1435.9 716.8L1436.5 719.1L1437.1 721.5L1437.7 723.8L1438.3 726.1L1438.9 728.4L1439.5 730.7L1440.1 733.1L1440.7 735.4L1441.3 737.7L1441.9 740.0L1442.5 742.3L1443.1 744.7L1443.7 747.0L1444.3 749.3L1444.9 751.6L1445.5 753.9L1446.1 756.3L1446.7 758.6L1447.3 760.9L1447.9 763.2L1448.5 765.6L1449.1 767.9L1449.7 770.2L1450.2 772.5L1450.8 774.9L1451.4 777.2L1452.0 779.5L1452.6 781.8L1453.2 784.2L1453.7 786.5L1454.3 788.8L1454.9 791.1L1455.5 793.5L1456.1 795.8L1456.6 798.1L1457.2 800.5L1457.8 802.8L1458.4 805.1L1458.9 807.4L1459.5 809.8L1460.1 812.1L1460.6 814.4L1461.2 816.8L1461.8 819.1L1462.4 821.4L1462.9 823.7L1463.5 826.1L1464.1 828.4L1464.6 830.7L1465.2 833.1L1465.8 835.4L1466.3 837.7L1466.9 840.1L1467.5 842.4L1468.0 844.7L1468.6 847.1L1469.1 849.0L1469.5 851.0L1470.0 852.9L1470.5 854.8L1470.9 856.8L1471.4 858.7L1471.9 860.7L1472.3 862.6L1472.8 864.6L1473.3 866.5L1473.7 868.5L1474.2 870.4L1474.7 872.3L1475.1 874.3L1475.6 876.2L1476.0 878.2L1476.5 880.1L1477.0 882.1L1477.4 884.0L1477.9 886.0L1478.4 887.9L1478.8 889.9L1479.3 891.8L1479.8 893.8L1480.2 895.7L1480.7 897.7L1481.1 899.6L1481.6 901.6L1482.1 903.5L1482.5 905.4L1483.0 907.4L1483.4 909.3L1483.9 911.3L1484.4 913.2L1484.8 915.2L1485.3 917.1L1485.7 919.1L1486.2 921.0L1486.7 923.0L1487.1 924.9L1487.6 926.9L1488.0 928.8L1488.5 930.8L1489.0 932.7L1489.4 934.7L1489.9 936.6L1490.3 938.6L1490.8 940.5L1491.3 942.5L1491.7 944.4L1492.2 946.4L1492.6 948.3L1493.1 950.3L1493.5 952.2L1494.0 954.2L1494.5 956.1L1494.9 958.1L1495.4 960.0L1495.8 962.0L1496.3 963.9L1496.8 965.9L1497.2 967.8L1497.7 969.8L1498.1 971.7L1498.6 973.7L1499.0 975.6L1499.5 977.6L1500.0 979.5L1500.4 981.5L1500.9 983.4L1501.3 985.4L1501.8 987.3L1502.3 989.3L1502.7 991.3L1503.2 993.2L1503.6 995.2L1504.1 997.1L1504.6 999.1L1505.0 1001.0L1505.5 1003.0L1505.9 1004.9L1506.4 1006.9L1506.9 1008.8L1507.3 1010.8L1507.8 1012.7L1508.2 1014.7L1508.7 1016.6L1509.2 1018.6L1509.6 1020.5L1510.1 1022.5L1510.6 1024.4L1511.0 1026.4L1511.5 1028.3L1511.9 1030.3L1512.4 1032.2L1512.9 1034.2L1513.3 1036.2L1513.8 1038.1L1514.3 1040.1L1514.7 1042.0L1515.2 1044.0L1515.7 1045.9L1516.1 1047.9L1516.6 1049.8L1517.1 1051.8L1517.5 1053.7L1518.0 1055.7L1518.5 1057.6L1518.9 1059.6L1519.4 1061.5L1519.9 1063.5L1520.3 1065.4L1520.8 1067.4L1521.3 1069.4L1521.7 1071.3L1522.2 1073.3L1522.7 1075.2L1523.2 1077.2L1523.6 1079.1L1524.1 1081.1L1524.6 1083.0L1525.0 1085.0L1525.5 1086.9L1526.0 1088.9L1526.5 1090.8L1526.9 1092.8L1527.4 1094.7L1527.9 1096.7L1528.4 1098.6L1528.8 1100.6L1529.3 1102.6L1529.8 1104.5L1530.3 1106.5L1530.8 1108.4L1531.2 1110.4L1531.7 1112.3L1532.2 1114.3L1532.7 1116.2L1533.2 1118.2L1533.6 1120.1L1534.1 1122.1L1534.6 1124.0L1535.1 1126.0L1535.6 1127.9L1536.1 1129.9L1536.5 1131.8L1537.0 1133.8L1537.5 1135.7L1538.0 1137.7L1538.5 1139.6L1539.0 1141.6L1539.5 1143.5L1540.0 1145.5L1540.5 1147.4L1541.0 1149.4L1541.4 1151.3L1541.9 1153.3L1542.4 1155.2L1542.9 1157.2L1543.4 1159.1L1543.9 1161.1L1544.4 1163.0L1544.9 1165.0L1545.4 1166.9L1545.9 1168.9L1546.4 1170.8L1546.9 1172.8L1547.4 1174.7L1548.0 1176.7L1548.5 1178.6L1549.0 1180.6L1549.5 1182.5L1550.0 1184.5L1550.5 1186.4L1551.0 1188.4L1551.6 1190.3L1552.1 1192.3L1552.6 1194.2L1553.1 1196.1L1553.7 1198.1L1554.2 1200.0L1554.8 1202.0L1555.3 1203.9L1555.9 1205.9L1556.4 1207.8L1557.0 1209.7L1557.5 1211.7L1558.1 1213.6L1558.6 1215.6L1559.2 1217.5L1559.8 1219.4L1560.3 1221.4L1560.9 1223.3L1561.5 1225.3L1562.0 1227.2L1562.6 1229.1L1563.2 1231.1L1563.8 1233.0L1564.3 1235.0L1564.9 1236.9L1565.5 1238.8L1566.1 1240.8L1566.7 1242.7L1567.3 1244.6L1567.9 1246.6L1568.4 1248.5L1569.0 1250.4L1569.6 1252.4L1570.2 1254.3L1570.8 1256.2L1571.4 1258.2L1572.0 1260.1L1572.6 1262.0L1573.2 1263.9L1573.8 1265.9L1574.4 1267.8L1575.0 1269.7L1575.6 1271.7L1576.2 1273.6L1576.8 1275.5L1577.4 1277.4L1578.0 1279.4L1578.6 1281.3L1579.2 1283.2L1579.8 1285.1L1580.4 1287.0L1581.0 1289.0L1581.6 1290.9L1582.2 1292.8L1582.8 1294.7L1583.4 1296.6L1584.0 1298.6L1584.6 1300.5L1585.2 1302.4L1585.8 1304.3L1586.5 1306.2L1587.1 1308.1L1587.7 1310.1L1588.3 1312.0L1588.9 1313.9L1589.5 1315.8L1590.1 1317.7L1590.7 1319.6L1591.3 1321.5L1592.0 1323.4L1592.6 1325.3L1593.2 1327.2L1593.8 1329.2L1594.4 1331.1L1595.1 1333.0L1595.7 1334.9L1596.3 1336.8L1597.0 1338.7L1597.6 1340.6L1598.2 1342.5L1598.9 1344.4L1599.5 1346.3L1600.1 1348.2L1600.8 1350.1L1601.4 1352.0L1602.1 1353.9L1602.7 1355.8L1603.4 1357.6L1604.0 1359.5L1604.7 1361.4L1605.3 1363.3L1606.0 1365.2L1606.6 1367.1L1607.3 1369.0L1608.0 1370.9L1608.6 1372.8L1609.3 1374.7L1610.0 1376.5L1610.6 1378.4L1611.3 1380.3L1612.0 1382.2L1612.7 1384.1L1613.3 1385.9L1614.0 1387.8L1614.7 1389.7L1615.4 1391.6L1616.1 1393.5L1616.8 1395.3L1617.5 1397.2L1618.2 1399.1L1618.9 1401.0L1619.6 1402.8L1620.3 1404.7L1621.0 1406.6L1621.7 1408.4L1622.4 1410.3L1623.1 1412.2L1623.8 1414.0L1624.6 1415.9L1625.3 1417.8L1626.0 1419.6L1626.7 1421.5L1627.4 1423.3L1628.2 1425.2L1628.9 1427.1L1629.6 1428.9L1630.3 1430.8L1631.0 1432.6L1631.7 1434.5L1632.5 1436.3L1633.2 1438.2L1633.9 1440.0L1634.6 1441.9L1635.3 1443.7L1636.1 1445.6L1636.8 1447.4L1637.5 1449.3L1638.2 1451.1L1639.0 1452.9L1639.7 1454.8L1640.5 1456.6L1641.2 1458.5L1641.9 1460.3L1642.7 1462.1L1643.5 1463.9L1644.2 1465.8L1645.0 1467.6L1645.7 1469.4L1646.5 1471.2L1647.5 1473.4L1648.4 1475.6L1649.4 1477.7L1650.4 1479.9L1651.4 1482.0L1652.4 1484.2L1653.4 1486.3L1654.4 1488.4L1655.5 1490.5L1656.6 1492.6L1657.7 1494.7L1658.8 1496.8L1659.9 1498.9L1661.0 1500.9L1662.2 1502.9L1663.4 1505.0L1664.6 1507.0L1665.8 1509.0L1667.0 1510.9L1668.2 1512.9L1669.5 1514.8L1670.8 1516.8L1672.1 1518.7L1673.4 1520.6L1674.7 1522.4L1676.1 1524.3L1677.4 1526.1L1678.8 1527.9L1680.2 1529.7L1681.6 1531.5L1683.0 1533.2L1684.5 1534.9L1685.9 1536.6L1687.4 1538.3L1688.9 1540.0L1690.4 1541.6L1691.9 1543.2L1693.5 1544.8L1695.1 1546.4L1696.7 1547.9L1698.3 1549.5L1699.9 1551.0L1701.6 1552.4L1703.2 1553.9L1704.9 1555.3L1706.7 1556.7L1708.4 1558.1L1710.2 1559.5L1711.9 1560.8L1713.7 1562.1L1715.6 1563.4L1717.4 1564.6L1719.2 1565.8L1721.1 1567.0L1723.0 1568.2L1724.9 1569.4L1726.8 1570.5L1728.8 1571.6L1730.8 1572.6L1732.8 1573.7L1734.8 1574.7L1736.9 1575.7L1738.9 1576.6L1741.0 1577.5L1743.2 1578.4L1745.3 1579.3L1747.5 1580.2L1749.8 1581.0L1752.1 1581.8L1754.5 1582.5L1757.0 1583.3L1759.5 1584.0L1762.0 1584.7L1764.6 1585.4L1767.2 1586.0L1769.4 1586.5L1771.6 1587.0L1773.8 1587.5L1776.0 1588.0L1778.3 1588.4L1780.5 1588.9L1782.7 1589.3L1785.0 1589.7L1787.2 1590.1L1789.5 1590.5L1791.7 1590.9L1793.9 1591.2L1796.2 1591.6L1798.4 1591.9L1800.5 1592.3L1802.5 1592.6L1804.6 1592.9L1806.7 1593.1L1808.7 1593.4L1810.8 1593.7L1812.9 1593.9L1815.0 1594.2L1817.0 1594.4L1819.1 1594.6L1821.2 1594.8L1823.3 1595.0L1825.4 1595.2L1827.5 1595.4L1829.6 1595.6L1831.7 1595.7L1833.8 1595.9L1836.0 1596.0L1838.1 1596.1L1840.2 1596.3L1842.3 1596.4L1844.4 1596.5L1846.5 1596.6L1848.7 1596.7L1850.8 1596.8L1852.9 1596.9L1855.0 1597.0L1857.1 1597.0L1859.3 1597.1L1861.4 1597.2L1863.5 1597.2L1865.6 1597.3L1867.7 1597.3L1869.9 1597.4L1872.0 1597.4L1874.1 1597.4L1876.2 1597.4L1878.3 1597.5L1880.4 1597.5L1882.5 1597.5L1884.6 1597.5L1886.7 1597.5L1888.8 1597.5L1890.9 1597.6L1893.0 1597.6L1895.0 1597.6L1897.1 1597.6L1899.2 1597.6L1901.2 1597.6L1903.3 1597.6L1905.4 1597.6L1907.4 1597.6L1909.4 1597.6L1911.5 1597.6L1913.5 1597.6L1915.5 1597.6L1917.6 1597.6L1919.6 1597.6L1922.0 1597.6L1924.3 1597.6L1926.7 1597.6L1929.1 1597.6L1931.4 1597.6L1933.8 1597.6L1936.1 1597.7L1938.4 1597.7L1940.7 1597.7L1943.0 1597.8L1945.3 1597.8L1947.5 1597.9L1949.8 1597.9L1952.0 1598.0L1954.2 1598.1L1956.6 1598.2L1959.1 1598.3L1961.5 1598.4L1963.5 1598.5L1965.0 1598.6L2239.0 1600.0" stroke="#f00" stroke-width="8.8" stroke-dasharray="34.80 48.53" stroke-dashoffset="71.13" stroke-linecap="round"/>
<path d="M963.0 1593.4L1002.3 1593.3L1002.5 1593.6L1003.0 1594.1L1005.2 1594.7L1007.4 1595.3L1009.8 1595.8L1011.9 1596.2L1014.0 1596.5L1016.1 1596.8L1018.2 1597.0L1020.4 1597.1L1022.5 1597.2L1024.6 1597.2L1026.8 1597.2L1028.9 1597.1L1031.1 1597.0L1033.3 1596.8L1035.4 1596.6L1037.6 1596.4L1039.7 1596.0L1041.8 1595.7L1044.0 1595.3L1046.1 1594.8L1048.2 1594.3L1051.1 1593.8L1055.2 1593.2L1059.3 1592.5L1063.1 1591.8L1066.3 1591.1L1069.1 1590.3L1071.7 1589.5L1074.3 1588.6L1076.7 1587.7L1078.9 1586.7L1080.8 1585.7L1082.3 1584.7L1083.5 1583.6L1084.8 1582.3L1085.9 1580.9L1087.2 1579.4L1088.7 1577.9L1090.2 1576.3L1091.6 1574.6L1093.0 1573.0L1094.4 1571.2L1095.7 1569.4L1097.1 1567.6L1098.4 1565.7L1099.6 1563.8L1100.8 1561.8L1101.9 1559.8L1103.0 1557.8L1104.0 1555.7L1105.0 1553.7L1105.9 1551.5L1106.7 1549.4L1107.5 1547.3L1108.2 1545.1L1108.9 1542.9L1109.5 1540.7L1110.0 1538.5L1110.6 1536.3L1111.2 1534.1L1111.9 1531.9L1112.5 1529.7L1113.1 1527.5L1113.7 1525.2L1114.4 1523.0L1115.0 1520.8L1115.6 1518.5L1116.2 1516.3L1116.8 1514.0L1117.4 1511.8L1117.9 1509.5L1118.5 1507.3L1119.0 1505.0L1119.6 1502.8L1120.1 1500.5L1120.6 1498.2L1121.1 1495.9L1121.6 1493.7L1122.0 1491.4L1122.5 1489.1L1122.9 1486.8L1123.3 1484.5L1123.8 1482.2L1124.2 1479.9L1124.6 1477.6L1125.0 1475.3L1125.4 1473.0L1125.8 1470.7L1126.1 1468.4L1126.5 1466.0L1126.8 1463.7L1127.1 1461.4L1127.4 1459.1L1127.7 1456.7L1128.0 1454.4L1128.3 1452.0L1128.6 1449.7L1128.9 1447.4L1129.2 1445.0L1129.4 1443.1L1129.7 1441.1L1130.0 1439.1L1130.4 1437.2L1130.7 1435.2L1131.1 1433.3L1131.5 1431.3L1131.8 1429.3L1132.2 1427.3L1132.6 1425.4L1132.9 1423.4L1133.3 1421.4L1133.6 1419.4L1134.0 1417.5L1134.3 1415.5L1134.7 1413.5L1135.0 1411.5L1135.4 1409.5L1135.7 1407.5L1136.1 1405.6L1136.4 1403.6L1136.8 1401.6L1137.1 1399.6L1137.4 1397.6L1137.8 1395.6L1138.1 1393.6L1138.4 1391.6L1138.7 1389.6L1139.1 1387.6L1139.4 1385.6L1139.7 1383.6L1140.0 1381.6L1140.4 1379.6L1140.7 1377.6L1141.0 1375.6L1141.3 1373.6L1141.6 1371.6L1141.9 1369.6L1142.2 1367.6L1142.5 1365.5L1142.8 1363.5L1143.2 1361.5L1143.5 1359.5L1143.8 1357.5L1144.1 1355.5L1144.3 1353.5L1144.6 1351.4L1144.9 1349.4L1145.2 1347.4L1145.5 1345.4L1145.8 1343.4L1146.1 1341.3L1146.4 1339.3L1146.7 1337.3L1146.9 1335.3L1147.2 1333.3L1147.5 1331.2L1147.8 1329.2L1148.1 1327.2L1148.3 1325.2L1148.6 1323.1L1148.9 1321.1L1149.2 1319.1L1149.4 1317.1L1149.7 1315.0L1150.0 1313.0L1150.2 1311.0L1150.5 1309.0L1150.7 1306.9L1151.0 1304.9L1151.3 1302.9L1151.5 1300.8L1151.8 1298.8L1152.0 1296.8L1152.3 1294.8L1152.6 1292.7L1152.8 1290.7L1153.1 1288.7L1153.3 1286.6L1153.6 1284.6L1153.8 1282.6L1154.1 1280.6L1154.3 1278.5L1154.6 1276.5L1154.8 1274.5L1155.1 1272.4L1155.3 1270.4L1155.6 1268.4L1155.8 1266.4L1156.1 1264.3L1156.3 1262.3L1156.6 1260.3L1156.8 1258.3L1157.1 1256.2L1157.3 1254.2L1157.6 1252.2L1157.8 1250.1L1158.1 1248.1L1158.3 1246.1L1158.6 1244.1L1158.8 1242.1L1159.1 1240.0L1159.3 1238.0L1159.6 1236.0L1159.8 1234.0L1160.1 1231.9L1160.4 1229.9L1160.6 1227.9L1160.9 1225.9L1161.1 1223.9L1161.4 1221.8L1161.6 1219.8L1161.9 1217.8L1162.1 1215.8L1162.4 1213.8L1162.6 1211.7L1162.9 1209.7L1163.1 1207.7L1163.4 1205.7L1163.6 1203.7L1163.9 1201.6L1164.1 1199.6L1164.4 1197.6L1164.6 1195.6L1164.9 1193.6L1165.1 1191.6L1165.4 1189.5L1165.7 1187.5L1165.9 1185.5L1166.2 1183.5L1166.4 1181.5L1166.7 1179.5L1166.9 1177.5L1167.2 1175.4L1167.4 1173.4L1167.7 1171.4L1167.9 1169.4L1168.2 1167.4L1168.4 1165.4L1168.7 1163.4L1169.0 1161.3L1169.2 1159.3L1169.5 1157.3L1169.7 1155.3L1170.0 1153.3L1170.2 1151.3L1170.5 1149.3L1170.7 1147.3L1171.0 1145.3L1171.3 1143.2L1171.5 1141.2L1171.8 1139.2L1172.0 1137.2L1172.3 1135.2L1172.5 1133.2L1172.8 1131.2L1173.0 1129.2L1173.3 1127.2L1173.6 1125.2L1173.8 1123.2L1174.1 1121.2L1174.3 1119.1L1174.6 1117.1L1174.8 1115.1L1175.1 1113.1L1175.3 1111.1L1175.5 1109.1L1175.8 1107.1L1176.0 1105.1L1176.3 1103.1L1176.5 1101.1L1176.8 1099.1L1177.0 1097.1L1177.3 1095.1L1177.5 1093.1L1177.8 1091.1L1178.0 1089.1L1178.3 1087.1L1178.5 1085.1L1178.8 1083.1L1179.0 1081.0L1179.3 1079.0L1179.5 1077.0L1179.7 1075.0L1180.0 1073.0L1180.2 1071.0L1180.5 1069.0L1180.7 1067.0L1181.0 1065.0L1181.2 1063.0L1181.5 1061.0L1181.7 1059.0L1182.0 1057.0L1182.2 1055.0L1182.5 1053.0L1182.7 1051.0L1183.0 1049.0L1183.2 1047.0L1183.5 1045.0L1183.7 1043.0L1184.0 1041.0L1184.2 1039.0L1184.5 1037.0L1184.7 1035.0L1185.0 1033.0L1185.2 1031.0L1185.5 1029.0L1185.7 1027.0L1186.0 1025.0L1186.2 1023.0L1186.5 1021.0L1186.7 1019.0L1187.0 1017.0L1187.2 1015.0L1187.5 1013.0L1187.8 1011.1L1188.0 1009.1L1188.3 1007.1L1188.5 1005.1L1188.8 1003.1L1189.0 1001.1L1189.3 999.1L1189.5 997.1L1189.8 995.1L1190.0 993.1L1190.3 991.1L1190.5 989.1L1190.8 987.1L1191.0 985.1L1191.3 983.1L1191.5 981.1L1191.8 979.1L1192.1 977.1L1192.3 975.1L1192.6 973.1L1192.8 971.1L1193.1 969.1L1193.3 967.2L1193.6 965.2L1193.8 963.2L1194.1 961.2L1194.3 959.2L1194.6 957.2L1194.9 955.2L1195.1 953.2L1195.4 951.2L1195.6 949.2L1195.9 947.2L1196.1 945.2L1196.4 943.2L1196.7 941.2L1196.9 939.2L1197.2 937.3L1197.4 935.3L1197.7 933.3L1197.9 931.3L1198.2 929.3L1198.5 927.3L1198.7 925.3L1199.0 923.3L1199.2 921.3L1199.5 919.3L1199.7 917.3L1200.0 915.3L1200.3 913.3L1200.5 911.4L1200.8 909.4L1201.0 907.4L1201.3 905.4L1201.6 903.4L1201.8 901.4L1202.1 899.4L1202.3 897.4L1202.6 895.4L1202.9 893.4L1203.1 891.4L1203.4 889.5L1203.6 887.5L1203.9 885.5L1204.2 883.5L1204.4 881.5L1204.7 879.5L1204.9 877.5L1205.2 875.5L1205.5 873.5L1205.7 871.5L1206.0 869.6L1206.3 867.6L1206.5 865.6L1206.8 863.6L1207.0 861.6L1207.3 859.6L1207.6 857.6L1207.8 855.6L1208.1 853.6L1208.4 851.6L1208.6 849.7L1208.9 847.7L1209.1 845.7L1209.4 843.7L1209.7 841.7L1209.9 839.7L1210.2 837.7L1210.5 835.7L1210.7 833.7L1211.0 831.8L1211.3 829.8L1211.5 827.8L1211.8 825.8L1212.1 823.8L1212.3 821.8L1212.6 819.8L1212.9 817.8L1213.1 815.8L1213.4 813.8L1213.7 811.9L1213.9 809.9L1214.2 807.9L1214.5 805.9L1214.7 803.9L1215.0 801.9L1215.3 799.9L1215.5 797.9L1215.8 795.9L1216.1 794.0L1216.3 792.0L1216.6 790.0L1216.9 788.0L1217.1 786.0L1217.4 784.0L1217.7 782.0L1217.9 780.0L1218.2 778.0L1218.5 776.1L1218.8 774.1L1219.0 772.1L1219.3 770.1L1219.6 768.1L1219.8 766.1L1220.1 764.1L1220.4 762.1L1220.6 760.1L1220.9 758.1L1221.2 756.2L1221.5 754.2L1221.7 752.2L1222.0 750.2L1222.3 748.2L1222.5 746.2L1222.8 744.2L1223.1 742.2L1223.4 740.2L1223.6 738.2L1223.9 736.3L1224.2 734.3L1224.5 732.3L1224.7 730.3L1225.0 728.3L1225.3 726.3L1225.6 724.3L1225.8 722.3L1226.1 720.3L1226.4 718.3L1226.7 716.4L1226.9 714.4L1227.2 712.4L1227.5 710.4L1227.8 708.4L1228.0 706.4L1228.3 704.4L1228.6 702.4L1228.9 700.4L1229.1 698.4L1229.4 696.4L1229.7 694.5L1230.0 692.5L1230.2 690.5L1230.5 688.5L1230.8 686.5L1231.1 684.5L1231.4 682.5L1231.6 680.5L1231.9 678.5L1232.2 676.5L1232.5 674.5L1232.7 672.5L1233.0 670.6L1233.3 668.6L1233.6 666.6L1233.9 664.6L1234.1 662.6L1234.4 660.6L1234.7 658.6L1235.0 656.6L1235.3 654.6L1235.6 652.6L1235.8 650.6L1236.1 648.6L1236.4 646.6L1236.7 644.6L1237.0 642.7L1237.2 640.7L1237.5 638.7L1237.8 636.7L1238.1 634.7L1238.4 632.7L1238.7 630.7L1238.9 628.7L1239.2 626.7L1239.5 624.7L1239.8 622.7L1240.1 620.7L1240.4 618.7L1240.6 616.7L1240.9 614.7L1241.2 612.7L1241.5 610.7L1241.8 608.7L1242.1 606.7L1242.4 604.8L1242.6 602.8L1242.9 600.8L1243.2 598.8L1243.5 596.8L1243.8 594.8L1244.1 592.8L1244.4 590.8L1244.6 588.8L1244.9 586.8L1245.2 584.8L1245.5 582.8L1245.8 580.8L1246.1 578.8L1246.4 576.8L1246.7 574.8L1247.0 572.8L1247.2 570.8L1247.5 568.8L1247.8 566.8L1248.1 564.8L1248.4 562.8L1248.7 560.8L1249.0 558.8L1249.3 556.8L1249.6 554.8L1249.9 552.8L1250.1 550.8L1250.4 548.8L1250.7 546.8L1251.0 544.8L1251.3 542.8L1251.6 540.8L1251.9 538.8L1252.2 536.8L1252.5 534.8L1252.8 532.8L1253.1 530.8L1253.4 528.8L1253.7 526.8L1254.0 524.8L1254.3 522.8L1254.5 520.8L1254.8 518.8L1255.1 516.8L1255.4 514.8L1255.7 512.8L1256.0 510.8L1256.3 508.8L1256.6 506.7L1256.9 504.7L1257.2 502.7L1257.5 500.7L1257.8 498.7L1258.1 496.7L1258.4 494.7L1258.7 492.7L1259.0 490.7L1259.3 488.7L1259.6 486.7L1259.9 484.7L1260.2 482.7L1260.5 480.8L1260.7 478.8L1261.0 476.9L1261.4 474.8L1261.8 472.7L1262.2 470.8L1262.7 468.8L1263.2 466.7L1263.7 464.6L1264.2 462.5L1264.8 460.5L1265.3 458.5L1265.9 456.3L1266.6 454.0L1267.3 451.8L1268.0 449.7L1268.7 447.7L1269.3 446.0L1270.4 443.1L1271.4 440.9L1272.3 439.0L1273.6 436.7L1274.9 435.6L1276.3 436.6L1277.7 439.0L1278.7 440.9L1279.7 443.1L1280.8 446.0L1281.4 447.7L1282.1 449.7L1282.8 451.8L1283.5 454.0L1284.2 456.3L1284.8 458.5L1285.3 460.5L1285.7 462.5L1286.1 464.6L1286.5 466.7L1286.9 468.8L1287.3 470.8L1287.6 472.7L1288.0 474.8L1288.3 476.9L1288.5 478.8L1288.8 480.8L1289.1 482.7L1289.3 484.7L1289.6 486.7L1289.9 488.8L1290.1 490.8L1290.4 492.8L1290.7 494.8L1290.9 496.8L1291.2 498.9L1291.5 500.9L1291.7 502.9L1292.0 504.9L1292.3 506.9L1292.5 508.9L1292.8 511.0L1293.0 513.0L1293.3 515.0L1293.6 517.0L1293.8 519.0L1294.1 521.0L1294.4 523.1L1294.6 525.1L1294.9 527.1L1295.1 529.1L1295.4 531.1L1295.7 533.1L1295.9 535.1L1296.2 537.1L1296.4 539.2L1296.7 541.2L1296.9 543.2L1297.2 545.2L1297.5 547.2L1297.7 549.2L1298.0 551.2L1298.2 553.2L1298.5 555.2L1298.7 557.2L1299.0 559.2L1299.2 561.3L1299.5 563.3L1299.7 565.3L1300.0 567.3L1300.2 569.3L1300.5 571.3L1300.7 573.3L1301.0 575.3L1301.2 577.3L1301.5 579.3L1301.7 581.3L1302.0 583.3L1302.2 585.3L1302.5 587.3L1302.7 589.3L1303.0 591.3L1303.2 593.3L1303.5 595.3L1303.7 597.3L1304.0 599.4L1304.2 601.4L1304.5 603.4L1304.7 605.4L1304.9 607.4L1305.2 609.4L1305.4 611.4L1305.7 613.4L1305.9 615.4L1306.1 617.4L1306.4 619.4L1306.6 621.4L1306.9 623.4L1307.1 625.4L1307.3 627.4L1307.6 629.4L1307.8 631.4L1308.1 633.4L1308.3 635.4L1308.5 637.4L1308.8 639.4L1309.0 641.4L1309.2 643.4L1309.5 645.4L1309.7 647.4L1310.0 649.4L1310.2 651.3L1310.4 653.3L1310.7 655.3L1310.9 657.3L1311.1 659.3L1311.4 661.3L1311.6 663.3L1311.8 665.3L1312.1 667.3L1312.3 669.3L1312.5 671.3L1312.7 673.3L1313.0 675.3L1313.2 677.3L1313.4 679.3L1313.7 681.3L1313.9 683.3L1314.1 685.3L1314.3 687.3L1314.6 689.3L1314.8 691.3L1315.0 693.3L1315.3 695.2L1315.5 697.2L1315.7 699.2L1315.9 701.2L1316.2 703.2L1316.4 705.2L1316.6 707.2L1316.8 709.2L1317.1 711.2L1317.3 713.2L1317.5 715.2L1317.7 717.2L1317.9 719.2L1318.2 721.2L1318.4 723.1L1318.6 725.1L1318.8 727.1L1319.0 729.1L1319.3 731.1L1319.5 733.1L1319.7 735.1L1319.9 737.1L1320.1 739.1L1320.4 741.1L1320.6 743.1L1320.8 745.1L1321.0 747.0L1321.2 749.0L1321.4 751.0L1321.6 753.0L1321.8 755.0L1322.0 757.0L1322.2 759.0L1322.4 761.0L1322.6 763.0L1322.8 765.0L1323.0 767.0L1323.2 768.9L1323.4 770.9L1323.6 772.9L1323.8 774.9L1324.0 776.9L1324.2 778.9L1324.4 780.9L1324.6 782.9L1324.8 784.9L1325.0 786.9L1325.2 788.8L1325.4 790.8L1325.6 792.8L1325.8 794.8L1326.0 796.8L1326.2 798.8L1326.3 800.8L1326.5 802.8L1326.7 804.8L1326.9 806.8L1327.1 808.7L1327.3 810.7L1327.5 812.7L1327.7 814.7L1327.9 816.7L1328.1 818.7L1328.3 820.7L1328.5 822.7L1328.7 824.7L1328.9 826.7L1329.1 828.6L1329.3 830.6L1329.5 832.6L1329.7 834.6L1329.8 836.6L1330.0 838.6L1330.2 840.6L1330.4 842.6L1330.6 844.6L1330.8 846.6L1331.0 848.6L1331.2 850.5L1331.4 852.5L1331.6 854.5L1331.8 856.5L1332.0 858.5L1332.1 860.5L1332.3 862.5L1332.5 864.5L1332.7 866.5L1332.9 868.5L1333.1 870.5L1333.3 872.4L1333.5 874.4L1333.7 876.4L1333.8 878.4L1334.0 880.4L1334.2 882.4L1334.4 884.4L1334.6 886.4L1334.8 888.4L1335.0 890.4L1335.2 892.4L1335.4 894.4L1335.5 896.3L1335.7 898.3L1335.9 900.3L1336.1 902.3L1336.3 904.3L1336.5 906.3L1336.7 908.3L1336.8 910.3L1337.0 912.3L1337.2 914.3L1337.4 916.3L1337.6 918.3L1337.8 920.3L1338.0 922.3L1338.1 924.2L1338.3 926.2L1338.5 928.2L1338.7 930.2L1338.9 932.2L1339.1 934.2L1339.2 936.2L1339.4 938.2L1339.6 940.2L1339.8 942.2L1340.0 944.2L1340.2 946.2L1340.3 948.2L1340.5 950.2L1340.7 952.2L1340.9 954.2L1341.1 956.2L1341.2 958.2L1341.4 960.2L1341.6 962.2L1341.8 964.2L1342.0 966.2L1342.1 968.2L1342.3 970.2L1342.5 972.2L1342.7 974.2L1342.9 976.1L1343.0 978.1L1343.2 980.1L1343.4 982.1L1343.6 984.1L1343.8 986.1L1343.9 988.1L1344.1 990.1L1344.3 992.1L1344.5 994.1L1344.7 996.1L1344.8 998.1L1345.0 1000.1L1345.2 1002.1L1345.4 1004.1L1345.5 1006.1L1345.7 1008.2L1345.9 1010.2L1346.1 1012.2L1346.2 1014.2L1346.4 1016.2L1346.6 1018.2L1346.8 1020.2L1346.9 1022.2L1347.1 1024.2L1347.3 1026.2L1347.5 1028.2L1347.6 1030.2L1347.8 1032.2L1348.0 1034.2L1348.2 1036.2L1348.3 1038.2L1348.5 1040.2L1348.7 1042.2L1348.9 1044.2L1349.0 1046.2L1349.2 1048.2L1349.4 1050.2L1349.5 1052.3L1349.7 1054.3L1349.9 1056.3L1350.1 1058.3L1350.2 1060.3L1350.4 1062.3L1350.6 1064.3L1350.7 1066.3L1350.9 1068.3L1351.1 1070.3L1351.3 1072.3L1351.4 1074.4L1351.6 1076.4L1351.8 1078.4L1351.9 1080.4L1352.1 1082.4L1352.3 1084.4L1352.4 1086.4L1352.6 1088.4L1352.8 1090.5L1352.9 1092.5L1353.1 1094.5L1353.3 1096.5L1353.4 1098.5L1353.6 1100.5L1353.8 1102.5L1354.0 1104.6L1354.1 1106.6L1354.3 1108.6L1354.4 1110.6L1354.6 1112.6L1354.8 1114.6L1354.9 1116.7L1355.1 1118.7L1355.3 1120.7L1355.4 1122.7L1355.6 1124.7L1355.8 1126.8L1356.0 1128.8L1356.1 1130.8L1356.3 1132.8L1356.5 1134.8L1356.7 1136.9L1356.8 1138.9L1357.0 1140.9L1357.2 1142.9L1357.4 1144.9L1357.6 1147.0L1357.8 1149.0L1357.9 1151.0L1358.1 1153.0L1358.3 1155.1L1358.5 1157.1L1358.7 1159.1L1358.9 1161.1L1359.1 1163.2L1359.3 1165.2L1359.5 1167.2L1359.7 1169.3L1359.9 1171.3L1360.1 1173.3L1360.3 1175.3L1360.5 1177.4L1360.7 1179.4L1360.9 1181.4L1361.1 1183.5L1361.3 1185.5L1361.5 1187.5L1361.7 1189.6L1361.9 1191.6L1362.1 1193.6L1362.3 1195.7L1362.5 1197.7L1362.7 1199.7L1362.9 1201.8L1363.1 1203.8L1363.3 1205.8L1363.5 1207.9L1363.8 1209.9L1364.0 1211.9L1364.2 1214.0L1364.4 1216.0L1364.6 1218.1L1364.8 1220.1L1365.0 1222.1L1365.2 1224.2L1365.4 1226.2L1365.6 1228.3L1365.8 1230.3L1366.0 1232.3L1366.2 1234.4L1366.4 1236.4L1366.6 1238.5L1366.9 1240.5L1367.1 1242.6L1367.3 1244.6L1367.5 1246.7L1367.7 1248.7L1367.9 1250.7L1368.1 1252.8L1368.3 1254.8L1368.5 1256.9L1368.7 1258.9L1368.9 1261.0L1369.1 1263.0L1369.3 1265.1L1369.5 1267.1L1369.7 1269.2L1369.8 1271.2L1370.0 1273.3L1370.2 1275.3L1370.4 1277.4L1370.6 1279.5L1370.8 1281.5L1371.0 1283.6L1371.3 1285.6L1371.5 1287.7L1371.7 1289.7L1371.9 1291.8L1372.1 1293.8L1372.3 1295.9L1372.5 1297.9L1372.7 1300.0L1373.0 1302.0L1373.2 1304.1L1373.4 1306.2L1373.6 1308.2L1373.8 1310.3L1374.1 1312.3L1374.3 1314.4L1374.5 1316.4L1374.7 1318.5L1375.0 1320.5L1375.2 1322.6L1375.4 1324.6L1375.7 1326.7L1375.9 1328.7L1376.1 1330.8L1376.4 1332.8L1376.6 1334.9L1376.8 1336.9L1377.1 1339.0L1377.3 1341.0L1377.5 1343.1L1377.8 1345.1L1378.0 1347.1L1378.3 1349.2L1378.5 1351.2L1378.7 1353.3L1379.0 1355.3L1379.2 1357.4L1379.5 1359.4L1379.7 1361.4L1380.0 1363.5L1380.2 1365.5L1380.5 1367.5L1380.7 1369.6L1381.0 1371.6L1381.2 1373.6L1381.5 1375.7L1381.7 1377.7L1382.0 1379.7L1382.2 1381.8L1382.5 1383.8L1382.7 1385.8L1383.0 1387.8L1383.2 1389.8L1383.5 1391.9L1383.7 1393.9L1384.0 1395.9L1384.2 1397.9L1384.5 1399.9L1384.8 1401.9L1385.0 1404.0L1385.2 1406.0L1385.4 1408.0L1385.7 1410.0L1385.9 1412.0L1386.1 1414.0L1386.3 1416.0L1386.5 1418.0L1386.7 1420.0L1386.9 1422.0L1387.1 1424.0L1387.3 1425.9L1387.6 1427.9L1387.8 1429.9L1388.0 1431.9L1388.3 1433.9L1388.6 1435.9L1388.8 1437.8L1389.2 1440.2L1389.5 1442.6L1389.9 1444.9L1390.3 1447.3L1390.6 1449.7L1391.0 1452.0L1391.4 1454.4L1391.8 1456.7L1392.2 1459.1L1392.6 1461.4L1393.0 1463.7L1393.4 1466.1L1393.8 1468.4L1394.2 1470.7L1394.6 1473.0L1395.0 1475.3L1395.4 1477.7L1395.7 1480.0L1396.1 1482.3L1396.5 1484.6L1396.9 1486.9L1397.2 1489.2L1397.6 1491.4L1398.0 1493.7L1398.4 1496.0L1398.8 1498.3L1399.3 1500.5L1399.7 1502.8L1400.2 1505.1L1400.7 1507.3L1401.2 1509.6L1401.7 1511.8L1402.2 1514.0L1402.7 1516.3L1403.3 1518.5L1403.8 1520.7L1404.4 1523.0L1405.0 1525.2L1405.5 1527.4L1406.1 1529.6L1406.6 1531.8L1407.2 1534.0L1407.7 1536.2L1408.3 1538.3L1408.8 1540.5L1409.3 1542.7L1409.9 1544.8L1410.4 1547.0L1411.0 1549.1L1411.6 1551.2L1412.2 1553.3L1412.8 1555.4L1413.4 1557.4L1414.0 1559.4L1414.6 1561.4L1415.3 1563.3L1416.1 1565.2L1416.9 1567.1L1417.8 1568.9L1418.8 1570.7L1419.8 1572.4L1420.9 1574.1L1422.1 1575.8L1423.4 1577.3L1424.9 1578.9L1426.5 1580.3L1428.2 1581.7L1430.1 1583.1L1432.2 1584.4L1434.5 1585.6L1436.8 1586.7L1439.3 1587.7L1441.9 1588.7L1444.7 1589.6L1447.8 1590.5L1450.4 1591.1L1453.0 1591.7L1455.7 1592.2L1458.4 1592.6L1461.1 1593.0L1463.8 1593.3L1466.3 1593.5L1468.9 1593.6L1471.5 1593.6L1474.0 1593.7L1476.3 1593.7L1478.3 1593.7L1479.7 1593.7L1541.0 1593.4" stroke="#000" stroke-width="7.8"/>
<path d="M963.0 1593.4L1002.3 1593.3L1002.4 1593.6L1002.9 1594.1L1005.0 1594.7L1007.2 1595.3L1009.5 1595.8L1011.6 1596.2L1013.6 1596.5L1015.7 1596.8L1017.8 1597.0L1019.9 1597.2L1022.0 1597.3L1024.1 1597.3L1026.2 1597.3L1028.4 1597.3L1030.5 1597.2L1032.7 1597.1L1034.8 1596.9L1037.0 1596.7L1039.1 1596.4L1041.2 1596.1L1043.4 1595.7L1045.5 1595.3L1047.6 1594.8L1049.7 1594.3L1052.5 1593.8L1056.6 1593.2L1060.7 1592.6L1064.5 1591.9L1067.8 1591.2L1070.6 1590.4L1073.2 1589.6L1075.8 1588.7L1078.2 1587.8L1080.4 1586.9L1082.4 1585.9L1084.0 1584.9L1085.5 1583.6L1086.8 1582.3L1087.9 1580.9L1089.2 1579.4L1090.7 1577.9L1092.2 1576.4L1093.6 1574.7L1095.0 1573.1L1096.4 1571.3L1097.7 1569.6L1099.1 1567.7L1099.6 1567.1" stroke="#f00" stroke-width="8.8" stroke-dasharray="34.80 48.53" stroke-dashoffset="82.53" stroke-linecap="round"/><path d="M1099.6 1567.1L1100.4 1565.9L1101.6 1564.0L1102.8 1562.0L1103.9 1560.1L1104.9 1558.0L1106.0 1556.0L1106.9 1553.9L1107.9 1551.8L1108.7 1549.7L1109.5 1547.6L1110.2 1545.4L1110.8 1543.3L1111.4 1541.1L1112.0 1538.9L1112.6 1536.7L1113.2 1534.5L1113.8 1532.3L1114.4 1530.1L1115.0 1527.9L1115.6 1525.7L1116.2 1523.5L1116.9 1521.3L1117.5 1519.1L1118.1 1516.8L1118.7 1514.6L1119.2 1512.4L1119.8 1510.1L1120.4 1507.9L1120.9 1505.6L1121.4 1503.4L1122.0 1501.1L1122.5 1498.9L1122.9 1496.6L1123.4 1494.4L1123.9 1492.1L1124.3 1489.8L1124.8 1487.5L1125.2 1485.3L1125.6 1483.0L1126.1 1480.7L1126.5 1478.4L1126.9 1476.1L1127.3 1473.8L1127.7 1471.5L1128.1 1469.2L1128.4 1466.9L1128.8 1464.6L1129.1 1462.3L1129.4 1460.0L1129.7 1457.7L1130.0 1455.4L1130.2 1453.0L1130.5 1450.7L1130.8 1448.4L1131.1 1446.1L1131.4 1443.7L1131.8 1441.4L1132.2 1439.1L1132.6 1436.7L1133.0 1434.4L1133.4 1432.0L1133.9 1429.7L1134.3 1427.3L1134.8 1425.0L1135.2 1422.6L1135.7 1420.3L1136.1 1417.9L1136.5 1415.6L1136.9 1413.2L1137.3 1411.2L1137.6 1409.3L1138.0 1407.3L1138.3 1405.3L1138.7 1403.3L1139.0 1401.4L1139.4 1399.4L1139.7 1397.4L1140.0 1395.4L1140.4 1393.4L1140.7 1391.5L1141.0 1389.5L1141.4 1387.5L1141.7 1385.5L1142.0 1383.5L1142.4 1381.5L1142.7 1379.5L1143.0 1377.5L1143.3 1375.5L1143.6 1373.6L1144.0 1371.6L1144.3 1369.6L1144.6 1367.6L1144.9 1365.6L1145.2 1363.6L1145.5 1361.6L1145.8 1359.6L1146.1 1357.6L1146.4 1355.6L1146.7 1353.6L1147.0 1351.6L1147.3 1349.6L1147.6 1347.6L1147.9 1345.6L1148.2 1343.6L1148.5 1341.5L1148.8 1339.5L1149.1 1337.5L1149.4 1335.5L1149.7 1333.5L1150.0 1331.5L1150.2 1329.5L1150.5 1327.5L1150.8 1325.5L1151.1 1323.5L1151.4 1321.5L1151.6 1319.4L1151.9 1317.4L1152.2 1315.4L1152.5 1313.4L1152.7 1311.4L1153.0 1309.4L1153.3 1307.4L1153.5 1305.3L1153.8 1303.3L1154.1 1301.3L1154.3 1299.3L1154.6 1297.3L1154.8 1295.3L1155.1 1293.3L1155.4 1291.2L1155.6 1289.2L1155.9 1287.2L1156.1 1285.2L1156.4 1283.2L1156.6 1281.2L1156.9 1279.2L1157.2 1277.1L1157.4 1275.1L1157.7 1273.1L1157.9 1271.1L1158.2 1269.1L1158.4 1267.1L1158.7 1265.1L1158.9 1263.0L1159.2 1261.0L1159.4 1259.0L1159.7 1257.0L1159.9 1255.0L1160.2 1253.0L1160.4 1251.0L1160.7 1249.0L1160.9 1246.9L1161.2 1244.9L1161.5 1242.9L1161.7 1240.9L1162.0 1238.9L1162.2 1236.9L1162.5 1234.9L1162.7 1232.9L1163.0 1230.9L1163.2 1228.9L1163.5 1226.8L1163.7 1224.8L1164.0 1222.8L1164.2 1220.8L1164.5 1218.8L1164.7 1216.8L1165.0 1214.8L1165.2 1212.8L1165.5 1210.8L1165.7 1208.8L1166.0 1206.8L1166.2 1204.8L1166.5 1202.8L1166.7 1200.8L1167.0 1198.8L1167.2 1196.8L1167.5 1194.8L1167.8 1192.8L1168.0 1190.7L1168.3 1188.7L1168.5 1186.7L1168.8 1184.7L1169.0 1182.7L1169.3 1180.7L1169.5 1178.7L1169.8 1176.7L1170.0 1174.7L1170.3 1172.7L1170.5 1170.7L1170.8 1168.7L1171.0 1166.7L1171.3 1164.7L1171.5 1162.7L1171.8 1160.7L1172.0 1158.7L1172.3 1156.7L1172.5 1154.7L1172.8 1152.7L1173.0 1150.7L1173.3 1148.7L1173.5 1146.7L1173.8 1144.7L1174.0 1142.7L1174.3 1140.7L1174.5 1138.7L1174.8 1136.7L1175.0 1134.7L1175.3 1132.8L1175.5 1130.8L1175.8 1128.8L1176.1 1126.8L1176.3 1124.8L1176.6 1122.8L1176.8 1120.8L1177.1 1118.8L1177.3 1116.8L1177.5 1114.8L1177.8 1112.8L1178.0 1110.8L1178.3 1108.8L1178.5 1106.8L1178.7 1104.8L1179.0 1102.8L1179.2 1100.8L1179.5 1098.8L1179.7 1096.9L1180.0 1094.9L1180.2 1092.9L1180.4 1090.9L1180.7 1088.9L1180.9 1086.9L1181.2 1084.9L1181.4 1082.9L1181.7 1080.9L1181.9 1078.9L1182.1 1076.9L1182.4 1074.9L1182.6 1073.0L1182.9 1071.0L1183.1 1069.0L1183.4 1067.0L1183.6 1065.0L1183.8 1063.0L1184.1 1061.0L1184.3 1059.0L1184.6 1057.0L1184.8 1055.0L1185.1 1053.1L1185.3 1051.1L1185.6 1049.1L1185.8 1047.1L1186.0 1045.1L1186.3 1043.1L1186.5 1041.1L1186.8 1039.1L1187.0 1037.2L1187.3 1035.2L1187.5 1033.2L1187.8 1031.2L1188.0 1029.2L1188.2 1027.2L1188.5 1025.2L1188.7 1023.3L1189.0 1021.3L1189.2 1019.3L1189.5 1017.3L1189.7 1015.3L1190.0 1013.3L1190.2 1011.3L1190.5 1009.4L1190.7 1007.4L1191.0 1005.4L1191.3 1003.0L1191.6 1000.6L1191.9 998.2L1192.2 995.9L1192.5 993.5L1192.7 991.1L1193.0 988.7L1193.3 986.3L1193.6 984.0L1193.9 981.6L1194.2 979.2L1194.5 976.8L1194.8 974.4L1195.1 972.1L1195.4 969.7L1195.7 967.3L1196.0 964.9L1196.3 962.5L1196.6 960.2L1197.0 957.8L1197.3 955.4L1197.6 953.0L1197.9 950.7L1198.2 948.3L1198.5 945.9L1198.8 943.5L1199.1 941.1L1199.4 938.8L1199.7 936.4L1200.0 934.0L1200.3 931.6L1200.6 929.3L1200.9 926.9L1201.2 924.5L1201.5 922.1L1201.8 919.8L1202.1 917.4L1202.4 915.0L1202.7 912.6L1203.1 910.3L1203.4 907.9L1203.7 905.5L1204.0 903.1L1204.3 900.8L1204.6 898.4L1204.9 896.0L1205.2 893.6L1205.5 891.3L1205.8 888.9L1206.1 886.5L1206.5 884.1L1206.8 881.8L1207.1 879.4L1207.4 877.0L1207.7 874.7L1208.0 872.3L1208.3 869.9L1208.7 867.5L1209.0 865.2L1209.3 862.8L1209.6 860.4L1209.9 858.0L1210.2 855.7L1210.6 853.3L1210.9 850.9L1211.2 848.5L1211.5 846.2L1211.8 843.8L1212.1 841.4L1212.5 839.1L1212.8 836.7L1213.1 834.3L1213.4 831.9L1213.7 829.6L1214.1 827.2L1214.4 824.8L1214.7 822.5L1215.0 820.1L1215.4 817.7L1215.7 815.3L1216.0 813.0L1216.3 810.6L1216.7 808.2L1217.0 805.9L1217.3 803.5L1217.6 801.1L1218.0 798.7L1218.3 796.4L1218.6 794.0L1218.9 791.6L1219.3 789.3L1219.6 786.9L1219.9 784.5L1220.3 782.1L1220.6 779.8L1220.9 777.4L1221.2 775.0L1221.6 772.7L1221.9 770.3L1222.2 767.9L1222.6 765.5L1222.9 763.2L1223.3 760.8L1223.6 758.4L1223.9 756.1L1224.3 753.7L1224.6 751.3L1224.9 748.9L1225.3 746.6L1225.6 744.2L1225.9 741.8L1226.3 739.5L1226.6 737.1L1227.0 734.7L1227.3 732.3L1227.7 730.0L1228.0 727.6L1228.3 725.2L1228.7 722.9L1229.0 720.5L1229.4 718.1L1229.7 715.7L1230.1 713.4L1230.4 711.0L1230.8 708.6L1231.1 706.3L1231.4 703.9L1231.8 701.5L1232.1 699.1L1232.5 696.8L1232.8 694.4L1233.2 692.0L1233.5 689.7L1233.9 687.3L1234.3 684.9L1234.6 682.5L1235.0 680.2L1235.3 677.8L1235.7 675.4L1236.0 673.0L1236.4 670.7L1236.7 668.3L1237.1 665.9L1237.5 663.6L1237.8 661.2L1238.1 659.2L1238.4 657.2L1238.7 655.2L1239.0 653.3L1239.3 651.3L1239.6 649.3L1239.9 647.3L1240.2 645.4L1240.5 643.4L1240.8 641.4L1241.1 639.4L1241.4 637.4L1241.7 635.5L1242.0 633.5L1242.4 631.5L1242.7 629.5L1243.0 627.5L1243.3 625.6L1243.6 623.6L1243.9 621.6L1244.2 619.6L1244.5 617.7L1244.8 615.7L1245.1 613.7L1245.4 611.7L1245.7 609.7L1246.1 607.8L1246.4 605.8L1246.7 603.8L1247.0 601.8L1247.3 599.8L1247.6 597.9L1247.9 595.9L1248.3 593.9L1248.6 591.9L1248.9 589.9L1249.2 588.0L1249.5 586.0L1249.8 584.0L1250.2 582.0L1250.5 580.0L1250.8 578.0L1251.1 576.1L1251.4 574.1L1251.8 572.1L1252.1 570.1L1252.4 568.1L1252.7 566.2L1253.0 564.2L1253.4 562.2L1253.7 560.2L1254.0 558.2L1254.3 556.2L1254.7 554.3L1255.0 552.3L1255.3 550.3L1255.6 548.3L1256.0 546.3L1256.3 544.3L1256.6 542.4L1257.0 540.4L1257.3 538.4L1257.6 536.4L1257.9 534.4L1258.3 532.4L1258.6 530.5L1258.9 528.5L1259.3 526.5L1259.6 524.5L1259.9 522.5L1260.3 520.5L1260.6 518.5L1260.9 516.6L1261.3 514.6L1261.6 512.6L1261.9 510.6L1262.3 508.6L1262.6 506.6L1263.0 504.7L1263.3 502.9L1263.7 501.1L1264.1 499.3L1264.5 497.2L1264.9 494.8L1265.2 493.0L1265.6 490.9L1266.0 488.8L1266.3 486.5L1266.7 484.2L1267.1 481.9L1267.5 479.8L1267.9 477.8L1268.3 476.0L1269.0 473.2L1269.6 470.8L1270.3 468.7L1270.9 466.8L1271.5 465.0L1272.4 462.3L1273.3 460.0L1274.0 458.2L1274.9 456.3L1275.7 455.5L1276.5 456.3L1277.4 458.2L1278.1 460.0L1278.9 462.3L1279.8 465.0L1280.3 466.8L1280.9 468.7L1281.5 470.8L1282.1 473.2L1282.8 476.0L1283.2 477.8L1283.7 479.8L1284.2 482.0L1284.7 484.3L1285.2 486.6L1285.7 488.9L1286.2 491.1L1286.6 493.2L1287.0 495.0L1287.1 495.3" stroke="#f00" stroke-width="8.8" stroke-dasharray="34.80 48.53" stroke-dashoffset="55.81" stroke-linecap="round"/><path d="M1287.1 495.3L1287.5 497.4L1287.9 499.5L1288.2 501.4L1288.5 503.2L1288.8 504.9L1289.1 506.8L1289.5 508.8L1289.8 510.8L1290.1 512.8L1290.4 514.8L1290.7 516.8L1291.0 518.8L1291.3 520.8L1291.6 522.8L1291.9 524.8L1292.1 526.8L1292.4 528.8L1292.7 530.8L1293.0 532.8L1293.3 534.8L1293.6 536.8L1293.9 538.8L1294.2 540.8L1294.5 542.7L1294.8 544.7L1295.1 546.7L1295.4 548.7L1295.7 550.7L1295.9 552.7L1296.2 554.7L1296.5 556.7L1296.8 558.7L1297.1 560.7L1297.4 562.7L1297.6 564.6L1297.9 566.6L1298.2 568.6L1298.5 570.6L1298.8 572.6L1299.0 574.6L1299.3 576.6L1299.6 578.6L1299.9 580.6L1300.1 582.5L1300.4 584.5L1300.7 586.5L1301.0 588.5L1301.2 590.5L1301.5 592.5L1301.8 594.5L1302.0 596.5L1302.3 598.4L1302.6 600.4L1302.8 602.4L1303.1 604.4L1303.4 606.4L1303.6 608.4L1303.9 610.3L1304.2 612.3L1304.4 614.3L1304.7 616.3L1304.9 618.3L1305.2 620.3L1305.5 622.3L1305.7 624.2L1306.0 626.2L1306.3 628.6L1306.6 631.0L1306.9 633.4L1307.2 635.7L1307.5 638.1L1307.8 640.5L1308.1 642.9L1308.4 645.3L1308.7 647.6L1309.0 650.0L1309.3 652.4L1309.6 654.8L1309.9 657.1L1310.2 659.5L1310.5 661.9L1310.8 664.3L1311.1 666.6L1311.4 669.0L1311.6 671.4L1311.9 673.8L1312.2 676.1L1312.5 678.5L1312.8 680.9L1313.1 683.3L1313.4 685.6L1313.6 688.0L1313.9 690.4L1314.2 692.8L1314.5 695.1L1314.8 697.5L1315.0 699.9L1315.3 702.3L1315.6 704.6L1315.9 707.0L1316.1 709.4L1316.4 711.8L1316.7 714.1L1317.0 716.5L1317.2 718.9L1317.5 721.3L1317.8 723.6L1318.0 726.0L1318.3 728.4L1318.6 730.7L1318.8 733.1L1319.1 735.5L1319.4 737.9L1319.6 740.2L1319.9 742.6L1320.1 745.0L1320.4 747.3L1320.6 749.7L1320.9 752.1L1321.1 754.5L1321.4 756.8L1321.6 759.2L1321.8 761.6L1322.1 763.9L1322.3 766.3L1322.5 768.7L1322.8 771.1L1323.0 773.4L1323.2 775.8L1323.5 778.2L1323.7 780.5L1323.9 782.9L1324.2 785.3L1324.4 787.7L1324.6 790.0L1324.9 792.4L1325.1 794.8L1325.3 797.1L1325.6 799.5L1325.8 801.9L1326.0 804.3L1326.3 806.6L1326.5 809.0L1326.7 811.4L1326.9 813.7L1327.2 816.1L1327.4 818.5L1327.6 820.9L1327.8 823.2L1328.1 825.6L1328.3 828.0L1328.5 830.3L1328.7 832.7L1329.0 835.1L1329.2 837.5L1329.4 839.8L1329.6 842.2L1329.8 844.6L1330.1 846.9L1330.3 849.3L1330.5 851.7L1330.7 854.1L1330.9 856.4L1331.2 858.8L1331.4 861.2L1331.6 863.6L1331.8 865.9L1332.0 868.3L1332.2 870.7L1332.5 873.0L1332.7 875.4L1332.9 877.8L1333.1 880.2L1333.3 882.5L1333.5 884.9L1333.7 887.3L1333.9 889.7L1334.2 892.0L1334.4 894.4L1334.6 896.8L1334.8 899.2L1335.0 901.5L1335.2 903.9L1335.4 906.3L1335.6 908.7L1335.8 911.0L1336.1 913.4L1336.3 915.8L1336.5 918.2L1336.7 920.5L1336.9 922.9L1337.1 925.3L1337.3 927.7L1337.5 930.1L1337.7 932.4L1337.9 934.8L1338.1 937.2L1338.3 939.6L1338.5 941.9L1338.7 944.3L1338.9 946.7L1339.1 949.1L1339.4 951.5L1339.6 953.8L1339.8 956.2L1340.0 958.6L1340.2 961.0L1340.4 963.4L1340.6 965.7L1340.8 968.1L1341.0 970.5L1341.2 972.9L1341.4 975.3L1341.6 977.6L1341.8 980.0L1342.0 982.4L1342.2 984.8L1342.4 987.2L1342.6 989.6L1342.8 991.9L1343.0 994.3L1343.2 996.7L1343.4 999.1L1343.6 1001.5L1343.8 1003.9L1344.0 1006.3L1344.2 1008.6L1344.4 1011.0L1344.6 1013.4L1344.8 1015.8L1344.9 1018.2L1345.1 1020.6L1345.3 1023.0L1345.5 1025.4L1345.7 1027.7L1345.9 1030.1L1346.1 1032.5L1346.3 1034.9L1346.5 1037.3L1346.7 1039.7L1346.9 1042.1L1347.1 1044.1L1347.2 1046.1L1347.4 1048.1L1347.6 1050.1L1347.7 1052.1L1347.9 1054.0L1348.0 1056.0L1348.2 1058.0L1348.4 1060.0L1348.5 1062.0L1348.7 1064.0L1348.8 1066.0L1349.0 1068.0L1349.2 1070.0L1349.3 1072.0L1349.5 1074.0L1349.6 1076.0L1349.8 1078.0L1350.0 1080.0L1350.1 1082.0L1350.3 1084.0L1350.4 1086.0L1350.6 1088.0L1350.8 1090.0L1350.9 1092.0L1351.1 1094.0L1351.2 1096.0L1351.4 1098.0L1351.6 1100.0L1351.7 1102.0L1351.9 1104.0L1352.0 1106.0L1352.2 1108.0L1352.4 1110.0L1352.5 1112.0L1352.7 1114.0L1352.8 1116.0L1353.0 1118.0L1353.2 1120.0L1353.3 1122.0L1353.5 1124.0L1353.6 1126.0L1353.8 1128.0L1354.0 1130.0L1354.1 1132.1L1354.3 1134.1L1354.5 1136.1L1354.7 1138.1L1354.8 1140.1L1355.0 1142.1L1355.2 1144.1L1355.4 1146.1L1355.6 1148.1L1355.7 1150.1L1355.9 1152.1L1356.1 1154.1L1356.3 1156.2L1356.5 1158.2L1356.7 1160.2L1356.9 1162.2L1357.1 1164.2L1357.2 1166.2L1357.4 1168.2L1357.6 1170.2L1357.8 1172.3L1358.0 1174.3L1358.2 1176.3L1358.4 1178.3L1358.6 1180.3L1358.8 1182.3L1359.0 1184.4L1359.2 1186.4L1359.4 1188.4L1359.6 1190.4L1359.8 1192.4L1360.0 1194.4L1360.3 1196.5L1360.5 1198.5L1360.7 1200.5L1360.9 1202.5L1361.1 1204.5L1361.3 1206.6L1361.5 1208.6L1361.7 1210.6L1361.9 1212.6L1362.1 1214.6L1362.3 1216.7L1362.5 1218.7L1362.8 1220.7L1363.0 1222.7L1363.2 1224.8L1363.4 1226.8L1363.6 1228.8L1363.8 1230.8L1364.0 1232.9L1364.2 1234.9L1364.4 1236.9L1364.7 1239.0L1364.9 1241.0L1365.1 1243.0L1365.3 1245.0L1365.5 1247.1L1365.7 1249.1L1365.9 1251.1L1366.1 1253.2L1366.3 1255.2L1366.5 1257.2L1366.7 1259.3L1367.0 1261.3L1367.2 1263.3L1367.4 1265.4L1367.6 1267.4L1367.8 1269.4L1368.0 1271.5L1368.2 1273.5L1368.4 1275.5L1368.6 1277.6L1368.8 1279.6L1369.0 1281.7L1369.2 1283.7L1369.5 1285.7L1369.7 1287.8L1369.9 1289.8L1370.1 1291.8L1370.4 1293.9L1370.6 1295.9L1370.8 1298.0L1371.0 1300.0L1371.3 1302.0L1371.5 1304.1L1371.7 1306.1L1372.0 1308.1L1372.2 1310.2L1372.4 1312.2L1372.7 1314.3L1372.9 1316.3L1373.1 1318.3L1373.4 1320.4L1373.6 1322.4L1373.9 1324.4L1374.1 1326.5L1374.4 1328.5L1374.6 1330.5L1374.9 1332.6L1375.1 1334.6L1375.4 1336.6L1375.6 1338.7L1375.9 1340.7L1376.1 1342.7L1376.4 1344.7L1376.6 1346.8L1376.9 1348.8L1377.1 1350.8L1377.4 1352.9L1377.6 1354.9L1377.9 1356.9L1378.1 1358.9L1378.4 1360.9L1378.7 1363.0L1378.9 1365.0L1379.2 1367.0L1379.4 1369.0L1379.7 1371.0L1380.0 1373.1L1380.2 1375.1L1380.5 1377.1L1380.7 1379.1L1381.0 1381.1L1381.3 1383.1L1381.5 1385.1L1381.8 1387.1L1382.1 1389.1L1382.3 1391.1L1382.6 1393.1L1382.8 1395.1L1383.1 1397.1L1383.4 1399.1L1383.6 1401.1L1383.9 1403.1L1384.1 1405.1L1384.4 1407.1L1384.6 1409.1L1384.8 1411.1L1385.0 1413.1L1385.2 1415.1L1385.4 1417.1L1385.7 1419.4L1385.9 1421.8L1386.2 1424.2L1386.5 1426.5L1386.7 1428.9L1387.0 1431.3L1387.3 1433.6L1387.6 1436.0L1388.0 1438.3L1388.3 1440.7L1388.7 1443.0L1389.0 1445.4L1389.4 1447.7L1389.8 1450.1L1390.2 1452.4L1390.5 1454.7L1390.9 1457.1L1391.3 1459.4L1391.7 1461.7L1392.1 1464.0L1392.5 1466.3L1392.9 1468.6L1393.3 1471.0L1393.7 1473.3L1394.0 1475.6L1394.4 1477.8L1394.7 1480.1L1395.1 1482.4L1395.5 1484.7L1395.8 1487.0L1396.2 1489.3L1396.5 1491.5L1396.9 1493.8L1397.3 1496.1L1397.7 1498.3L1398.1 1500.6L1398.5 1502.8L1398.9 1505.1L1399.4 1507.3L1399.9 1509.5L1400.4 1511.8L1400.8 1514.0L1401.3 1516.2L1401.9 1518.4L1402.4 1520.6L1402.9 1522.8L1403.4 1525.0L1403.9 1527.2L1404.4 1529.4L1405.0 1531.6L1405.5 1533.8L1406.0 1535.9L1406.4 1538.1L1406.9 1540.3L1407.4 1542.4L1407.9 1544.6L1408.4 1546.7L1408.9 1548.8L1409.5 1550.9L1410.0 1553.0L1410.6 1555.0L1411.2 1557.1L1411.7 1559.1L1412.4 1561.0L1413.0 1563.0L1413.8 1564.9L1414.6 1566.7L1415.2 1567.8" stroke="#f00" stroke-width="8.8" stroke-dasharray="34.80 48.53" stroke-dashoffset="57.85" stroke-linecap="round"/><path d="M1415.2 1567.8L1415.6 1568.6L1416.6 1570.3L1417.6 1572.1L1418.8 1573.8L1420.0 1575.4L1421.4 1577.0L1422.9 1578.5L1424.6 1580.0L1426.4 1581.4L1428.4 1582.8L1430.6 1584.1L1432.9 1585.3L1435.3 1586.4L1437.4 1587.3L1439.6 1588.2L1441.9 1589.0L1444.3 1589.7L1446.9 1590.4L1449.5 1591.1L1452.1 1591.6L1454.8 1592.1L1457.4 1592.6L1460.1 1593.0L1462.7 1593.3L1465.3 1593.6L1467.5 1593.7L1469.9 1593.8L1472.3 1593.8L1474.6 1593.8L1476.7 1593.7L1478.4 1593.7L1479.7 1593.7L1541.0 1593.4" stroke="#f00" stroke-width="8.8" stroke-dasharray="34.80 48.53" stroke-dashoffset="61.87" stroke-linecap="round"/>
</g>
<g stroke="#000" stroke-width="8" fill="none">
<rect x="262.0" y="58.5" width="1977.0" height="1534.5"/>
<line x1="426.8" y1="1593.0" x2="426.8" y2="1577.0"/>
<line x1="591.5" y1="1593.0" x2="591.5" y2="1561.0"/>
<line x1="756.2" y1="1593.0" x2="756.2" y2="1577.0"/>
<line x1="921.0" y1="1593.0" x2="921.0" y2="1561.0"/>
<line x1="1085.8" y1="1593.0" x2="1085.8" y2="1577.0"/>
<line x1="1250.5" y1="1593.0" x2="1250.5" y2="1561.0"/>
<line x1="1415.2" y1="1593.0" x2="1415.2" y2="1577.0"/>
<line x1="1580.0" y1="1593.0" x2="1580.0" y2="1561.0"/>
<line x1="1744.8" y1="1593.0" x2="1744.8" y2="1577.0"/>
<line x1="1909.5" y1="1593.0" x2="1909.5" y2="1561.0"/>
<line x1="2074.2" y1="1593.0" x2="2074.2" y2="1577.0"/>
<line x1="262.0" y1="1411.2" x2="294.0" y2="1411.2"/>
<line x1="262.0" y1="960.3" x2="294.0" y2="960.3"/>
<line x1="262.0" y1="509.4" x2="294.0" y2="509.4"/>
<line x1="262.0" y1="1185.8" x2="278.0" y2="1185.8"/>
<line x1="262.0" y1="734.9" x2="278.0" y2="734.9"/>
<line x1="262.0" y1="284.0" x2="278.0" y2="284.0"/>
</g>
<g fill="none" clip-path="url(#band)"><path d="M1270.2 479.6L1270.3 479.3L1271.1 477.4L1271.8 475.5L1272.6 473.7L1273.4 471.8L1274.1 469.9L1274.9 468.1L1275.7 466.2L1276.5 464.3L1277.2 462.4L1278.0 460.6L1278.8 458.7L1279.5 456.8L1280.3 455.0L1281.1 453.1L1281.9 451.2L1282.7 449.3L1283.4 447.5L1284.2 445.6L1285.0 443.7L1285.8 441.8L1286.6 440.0L1287.3 438.2L1288.0 436.5L1288.7 434.8L1289.5 433.0L1290.3 431.0L1291.3 428.8L1292.0 427.1L1292.9 425.2L1293.7 423.1L1294.6 420.9L1295.6 418.8L1296.5 416.6L1297.4 414.6L1298.2 412.7L1299.0 411.0L1300.2 408.3L1301.4 406.0L1302.4 403.9L1303.5 402.1L1304.5 400.5L1306.1 398.4L1307.7 397.1L1309.5 396.0L1311.6 395.1L1313.8 394.6L1316.0 394.4L1318.0 394.6L1319.9 395.1L1322.0 396.2L1323.7 397.4L1325.4 398.8L1327.2 400.5L1329.2 402.5L1330.5 403.9L1331.8 405.3L1333.2 406.9L1334.7 408.6L1336.2 410.7L1337.8 413.0L1338.7 414.5L1339.8 416.2L1340.8 418.0L1342.0 419.9L1343.1 422.0L1344.2 424.0L1345.3 426.0L1346.4 427.9L1347.3 429.8L1348.2 431.5L1349.0 433.0L1350.2 435.4L1351.2 437.3L1352.0 439.1L1352.6 440.7L1353.3 442.3L1354.0 444.1L1354.8 446.0L1355.5 447.8L1356.2 449.7L1356.9 451.6L1357.6 453.5L1358.3 455.4L1359.0 457.3L1359.7 459.2L1360.4 461.1L1361.1 463.0L1361.8 464.8L1362.4 466.7L1363.1 468.6L1363.8 470.5L1364.5 472.4L1365.2 474.3L1365.8 476.2L1366.5 478.1L1367.2 480.0L1367.8 481.9L1368.5 483.8L1369.2 485.6L1369.8 487.5L1370.5 489.4L1371.2 491.3L1371.8 493.2L1372.5 495.1L1373.1 497.0L1373.8 498.9L1374.4 500.8L1375.1 502.7L1375.7 504.6L1376.4 506.5L1377.0 508.4L1377.6 510.3L1378.3 512.2L1378.9 514.1L1379.6 516.0L1380.2 517.9L1380.8 519.8L1381.5 521.7L1382.1 523.6L1382.7 525.5L1383.3 527.4L1384.0 529.3L1384.6 531.2L1385.2 533.1L1385.8 535.0L1386.4 536.9L1387.0 538.8L1387.6 540.7L1388.3 542.6L1388.9 544.5L1389.5 546.4L1390.2 548.7L1390.9 551.0L1391.6 553.3L1392.3 555.6L1393.0 557.9L1393.7 560.2L1394.4 562.4L1395.1 564.7L1395.8 567.0L1396.5 569.3L1397.2 571.6L1397.9 573.9L1398.5 576.2L1399.2 578.5L1399.9 580.8L1400.5 583.1L1401.2 585.4L1401.9 587.7L1402.5 590.0L1403.2 592.2L1403.9 594.5L1404.5 596.8L1405.2 599.1L1405.8 601.4L1406.5 603.7L1407.1 606.0L1407.8 608.3L1408.4 610.6L1409.1 612.9L1409.7 615.2L1410.3 617.5L1411.0 619.8L1411.6 622.1L1412.2 624.4L1412.9 626.7L1413.5 629.0L1414.1 631.3L1414.8 633.6L1415.4 635.9L1416.0 638.3L1416.6 640.6L1417.2 642.9L1417.8 645.2L1418.4 647.5L1419.0 649.8L1419.6 652.1L1420.2 654.4L1420.8 656.7L1421.4 659.0L1421.9 661.3L1422.5 663.6L1423.1 665.9L1423.7 668.2L1424.2 670.6L1424.8 672.9L1425.4 675.2L1425.9 677.5L1426.5 679.8L1427.1 682.1L1427.6 684.4L1428.2 686.7L1428.8 689.0L1429.4 691.4L1429.9 693.7L1430.5 696.0L1431.1 698.3L1431.7 700.6L1432.3 702.9L1432.9 705.2L1433.5 707.6L1434.1 709.9L1434.7 712.2L1435.3 714.5L1435.9 716.8L1436.5 719.1L1437.1 721.5L1437.7 723.8L1438.3 726.1L1438.9 728.4L1439.5 730.7L1440.1 733.1L1440.7 735.4L1441.3 737.7L1441.9 740.0L1442.5 742.3L1443.1 744.7L1443.7 747.0L1444.3 749.3L1444.9 751.6L1445.5 753.9L1446.1 756.3L1446.7 758.6L1447.3 760.9L1447.9 763.2L1448.5 765.6L1449.1 767.9L1449.7 770.2L1450.2 772.5L1450.8 774.9L1451.4 777.2L1452.0 779.5L1452.6 781.8L1453.2 784.2L1453.7 786.5L1454.3 788.8L1454.9 791.1L1455.5 793.5L1456.1 795.8L1456.6 798.1L1457.2 800.5L1457.8 802.8L1458.4 805.1L1458.9 807.4L1459.5 809.8L1460.1 812.1L1460.6 814.4L1461.2 816.8L1461.8 819.1L1462.4 821.4L1462.9 823.7L1463.5 826.1L1464.1 828.4L1464.6 830.7L1465.2 833.1L1465.8 835.4L1466.3 837.7L1466.9 840.1L1467.5 842.4L1468.0 844.7L1468.6 847.1L1469.1 849.0L1469.5 851.0L1470.0 852.9L1470.5 854.8L1470.9 856.8L1471.4 858.7L1471.9 860.7L1472.3 862.6L1472.8 864.6L1473.3 866.5L1473.7 868.5L1474.2 870.4L1474.7 872.3L1475.1 874.3L1475.6 876.2L1476.0 878.2L1476.5 880.1L1477.0 882.1L1477.4 884.0L1477.9 886.0L1478.4 887.9L1478.8 889.9L1479.3 891.8L1479.8 893.8L1480.2 895.7L1480.7 897.7L1481.1 899.6L1481.6 901.6L1482.1 903.5L1482.5 905.4L1483.0 907.4L1483.4 909.3L1483.9 911.3L1484.4 913.2L1484.8 915.2L1485.3 917.1L1485.7 919.1L1486.2 921.0L1486.7 923.0L1487.1 924.9L1487.6 926.9L1488.0 928.8L1488.5 930.8L1489.0 932.7L1489.4 934.7L1489.9 936.6L1490.3 938.6L1490.8 940.5L1491.3 942.5L1491.7 944.4L1492.2 946.4L1492.6 948.3L1493.1 950.3L1493.5 952.2L1494.0 954.2L1494.5 956.1L1494.9 958.1L1495.4 960.0L1495.8 962.0L1496.3 963.9L1496.8 965.9L1497.2 967.8L1497.7 969.8L1498.1 971.7L1498.6 973.7L1499.0 975.6L1499.5 977.6L1500.0 979.5L1500.4 981.5L1500.9 983.4L1501.3 985.4L1501.8 987.3L1502.3 989.3L1502.7 991.3L1503.2 993.2L1503.6 995.2L1504.1 997.1L1504.6 999.1L1505.0 1001.0L1505.5 1003.0L1505.9 1004.9L1506.4 1006.9L1506.9 1008.8L1507.3 1010.8L1507.8 1012.7L1508.2 1014.7L1508.7 1016.6L1509.2 1018.6L1509.6 1020.5L1510.1 1022.5L1510.6 1024.4L1511.0 1026.4L1511.5 1028.3L1511.9 1030.3L1512.4 1032.2L1512.9 1034.2L1513.3 1036.2L1513.8 1038.1L1514.3 1040.1L1514.7 1042.0L1515.2 1044.0L1515.7 1045.9L1516.1 1047.9L1516.6 1049.8L1517.1 1051.8L1517.5 1053.7L1518.0 1055.7L1518.5 1057.6L1518.9 1059.6L1519.4 1061.5L1519.9 1063.5L1520.3 1065.4L1520.8 1067.4L1521.3 1069.4L1521.7 1071.3L1522.2 1073.3L1522.7 1075.2L1523.2 1077.2L1523.6 1079.1L1524.1 1081.1L1524.6 1083.0L1525.0 1085.0L1525.5 1086.9L1526.0 1088.9L1526.5 1090.8L1526.9 1092.8L1527.4 1094.7L1527.9 1096.7L1528.4 1098.6L1528.8 1100.6L1529.3 1102.6L1529.8 1104.5L1530.3 1106.5L1530.8 1108.4L1531.2 1110.4L1531.7 1112.3L1532.2 1114.3L1532.7 1116.2L1533.2 1118.2L1533.6 1120.1L1534.1 1122.1L1534.6 1124.0L1535.1 1126.0L1535.6 1127.9L1536.1 1129.9L1536.5 1131.8L1537.0 1133.8L1537.5 1135.7L1538.0 1137.7L1538.5 1139.6L1539.0 1141.6L1539.5 1143.5L1540.0 1145.5L1540.5 1147.4L1541.0 1149.4L1541.4 1151.3L1541.9 1153.3L1542.4 1155.2L1542.9 1157.2L1543.4 1159.1L1543.9 1161.1L1544.4 1163.0L1544.9 1165.0L1545.4 1166.9L1545.9 1168.9L1546.4 1170.8L1546.9 1172.8L1547.4 1174.7L1548.0 1176.7L1548.5 1178.6L1549.0 1180.6L1549.5 1182.5L1550.0 1184.5L1550.5 1186.4L1551.0 1188.4L1551.6 1190.3L1552.1 1192.3L1552.6 1194.2L1553.1 1196.1L1553.7 1198.1L1554.2 1200.0L1554.8 1202.0L1555.3 1203.9L1555.9 1205.9L1556.4 1207.8L1557.0 1209.7L1557.5 1211.7L1558.1 1213.6L1558.6 1215.6L1559.2 1217.5L1559.8 1219.4L1560.3 1221.4L1560.9 1223.3L1561.5 1225.3L1562.0 1227.2L1562.6 1229.1L1563.2 1231.1L1563.8 1233.0L1564.3 1235.0L1564.9 1236.9L1565.5 1238.8L1566.1 1240.8L1566.7 1242.7L1567.3 1244.6L1567.9 1246.6L1568.4 1248.5L1569.0 1250.4L1569.6 1252.4L1570.2 1254.3L1570.8 1256.2L1571.4 1258.2L1572.0 1260.1L1572.6 1262.0L1573.2 1263.9L1573.8 1265.9L1574.4 1267.8L1575.0 1269.7L1575.6 1271.7L1576.2 1273.6L1576.8 1275.5L1577.4 1277.4L1578.0 1279.4L1578.6 1281.3L1579.2 1283.2L1579.8 1285.1L1580.4 1287.0L1581.0 1289.0L1581.6 1290.9L1582.2 1292.8L1582.8 1294.7L1583.4 1296.6L1584.0 1298.6L1584.6 1300.5L1585.2 1302.4L1585.8 1304.3L1586.5 1306.2L1587.1 1308.1L1587.7 1310.1L1588.3 1312.0L1588.9 1313.9L1589.5 1315.8L1590.1 1317.7L1590.7 1319.6L1591.3 1321.5L1592.0 1323.4L1592.6 1325.3L1593.2 1327.2L1593.8 1329.2L1594.4 1331.1L1595.1 1333.0L1595.7 1334.9L1596.3 1336.8L1597.0 1338.7L1597.6 1340.6L1598.2 1342.5L1598.9 1344.4L1599.5 1346.3L1600.1 1348.2L1600.8 1350.1L1601.4 1352.0L1602.1 1353.9L1602.7 1355.8L1603.4 1357.6L1604.0 1359.5L1604.7 1361.4L1605.3 1363.3L1606.0 1365.2L1606.6 1367.1L1607.3 1369.0L1608.0 1370.9L1608.6 1372.8L1609.3 1374.7L1610.0 1376.5L1610.6 1378.4L1611.3 1380.3L1612.0 1382.2L1612.7 1384.1L1613.3 1385.9L1614.0 1387.8L1614.7 1389.7L1615.4 1391.6L1616.1 1393.5L1616.8 1395.3L1617.5 1397.2L1618.2 1399.1L1618.9 1401.0L1619.6 1402.8L1620.3 1404.7L1621.0 1406.6L1621.7 1408.4L1622.4 1410.3L1623.1 1412.2L1623.8 1414.0L1624.6 1415.9L1625.3 1417.8L1626.0 1419.6L1626.7 1421.5L1627.4 1423.3L1628.2 1425.2L1628.9 1427.1L1629.6 1428.9L1630.3 1430.8L1631.0 1432.6L1631.7 1434.5L1632.5 1436.3L1633.2 1438.2L1633.9 1440.0L1634.6 1441.9L1635.3 1443.7L1636.1 1445.6L1636.8 1447.4L1637.5 1449.3L1638.2 1451.1L1639.0 1452.9L1639.7 1454.8L1640.5 1456.6L1641.2 1458.5L1641.9 1460.3L1642.7 1462.1L1643.5 1463.9L1644.2 1465.8L1645.0 1467.6L1645.7 1469.4L1646.5 1471.2L1647.5 1473.4L1648.4 1475.6L1649.4 1477.7L1650.4 1479.9L1651.4 1482.0L1652.4 1484.2L1653.4 1486.3L1654.4 1488.4L1655.5 1490.5L1656.6 1492.6L1657.7 1494.7L1658.8 1496.8L1659.9 1498.9L1661.0 1500.9L1662.2 1502.9L1663.4 1505.0L1664.6 1507.0L1665.8 1509.0L1667.0 1510.9L1668.2 1512.9L1669.5 1514.8L1670.8 1516.8L1672.1 1518.7L1673.4 1520.6L1674.7 1522.4L1676.1 1524.3L1677.4 1526.1L1678.8 1527.9L1680.2 1529.7L1681.6 1531.5L1683.0 1533.2L1684.5 1534.9L1685.9 1536.6L1687.4 1538.3L1688.9 1540.0L1690.4 1541.6L1691.9 1543.2L1693.5 1544.8L1695.1 1546.4L1696.7 1547.9L1698.3 1549.5L1699.9 1551.0L1701.6 1552.4L1703.2 1553.9L1704.9 1555.3L1706.7 1556.7L1708.4 1558.1L1710.2 1559.5L1711.9 1560.8L1713.7 1562.1L1715.6 1563.4L1717.4 1564.6L1719.2 1565.8L1721.1 1567.0L1723.0 1568.2L1724.9 1569.4L1726.8 1570.5L1728.8 1571.6L1730.8 1572.6L1732.8 1573.7L1734.8 1574.7L1736.9 1575.7L1738.9 1576.6L1741.0 1577.5L1743.2 1578.4L1745.3 1579.3L1747.5 1580.2L1749.8 1581.0L1752.1 1581.8L1754.5 1582.5L1757.0 1583.3L1759.5 1584.0L1762.0 1584.7L1764.6 1585.4L1767.2 1586.0L1769.4 1586.5L1771.6 1587.0L1773.8 1587.5L1776.0 1588.0L1778.3 1588.4L1780.5 1588.9L1782.7 1589.3L1785.0 1589.7L1787.2 1590.1L1789.5 1590.5L1791.7 1590.9L1793.9 1591.2L1796.2 1591.6L1798.4 1591.9L1800.5 1592.3L1802.5 1592.6L1804.6 1592.9L1806.7 1593.1L1808.7 1593.4L1810.8 1593.7L1812.9 1593.9L1815.0 1594.2L1817.0 1594.4L1819.1 1594.6L1821.2 1594.8L1823.3 1595.0L1825.4 1595.2L1827.5 1595.4L1829.6 1595.6L1831.7 1595.7L1833.8 1595.9L1836.0 1596.0L1838.1 1596.1L1840.2 1596.3L1842.3 1596.4L1844.4 1596.5L1846.5 1596.6L1848.7 1596.7L1850.8 1596.8L1852.9 1596.9L1855.0 1597.0L1857.1 1597.0L1859.3 1597.1L1861.4 1597.2L1863.5 1597.2L1865.6 1597.3L1867.7 1597.3L1869.9 1597.4L1872.0 1597.4L1874.1 1597.4L1876.2 1597.4L1878.3 1597.5L1880.4 1597.5L1882.5 1597.5L1884.6 1597.5L1886.7 1597.5L1888.8 1597.5L1890.9 1597.6L1893.0 1597.6L1895.0 1597.6L1897.1 1597.6L1899.2 1597.6L1901.2 1597.6L1903.3 1597.6L1905.4 1597.6L1907.4 1597.6L1909.4 1597.6L1911.5 1597.6L1913.5 1597.6L1915.5 1597.6L1917.6 1597.6L1919.6 1597.6L1922.0 1597.6L1924.3 1597.6L1926.7 1597.6L1929.1 1597.6L1931.4 1597.6L1933.8 1597.6L1936.1 1597.7L1938.4 1597.7L1940.7 1597.7L1943.0 1597.8L1945.3 1597.8L1947.5 1597.9L1949.8 1597.9L1952.0 1598.0L1954.2 1598.1L1956.6 1598.2L1959.1 1598.3L1961.5 1598.4L1963.5 1598.5L1965.0 1598.6L2239.0 1600.0" stroke="#f00" stroke-width="8.8" stroke-dasharray="34.80 48.53" stroke-dashoffset="71.13" stroke-linecap="round"/><path d="M963.0 1593.4L1002.3 1593.3L1002.4 1593.6L1002.9 1594.1L1005.0 1594.7L1007.2 1595.3L1009.5 1595.8L1011.6 1596.2L1013.6 1596.5L1015.7 1596.8L1017.8 1597.0L1019.9 1597.2L1022.0 1597.3L1024.1 1597.3L1026.2 1597.3L1028.4 1597.3L1030.5 1597.2L1032.7 1597.1L1034.8 1596.9L1037.0 1596.7L1039.1 1596.4L1041.2 1596.1L1043.4 1595.7L1045.5 1595.3L1047.6 1594.8L1049.7 1594.3L1052.5 1593.8L1056.6 1593.2L1060.7 1592.6L1064.5 1591.9L1067.8 1591.2L1070.6 1590.4L1073.2 1589.6L1075.8 1588.7L1078.2 1587.8L1080.4 1586.9L1082.4 1585.9L1084.0 1584.9L1085.5 1583.6L1086.8 1582.3L1087.9 1580.9L1089.2 1579.4L1090.7 1577.9L1092.2 1576.4L1093.6 1574.7L1095.0 1573.1L1096.4 1571.3L1097.7 1569.6L1099.1 1567.7L1099.6 1567.1" stroke="#f00" stroke-width="8.8" stroke-dasharray="34.80 48.53" stroke-dashoffset="82.53" stroke-linecap="round"/><path d="M1099.6 1567.1L1100.4 1565.9L1101.6 1564.0L1102.8 1562.0L1103.9 1560.1L1104.9 1558.0L1106.0 1556.0L1106.9 1553.9L1107.9 1551.8L1108.7 1549.7L1109.5 1547.6L1110.2 1545.4L1110.8 1543.3L1111.4 1541.1L1112.0 1538.9L1112.6 1536.7L1113.2 1534.5L1113.8 1532.3L1114.4 1530.1L1115.0 1527.9L1115.6 1525.7L1116.2 1523.5L1116.9 1521.3L1117.5 1519.1L1118.1 1516.8L1118.7 1514.6L1119.2 1512.4L1119.8 1510.1L1120.4 1507.9L1120.9 1505.6L1121.4 1503.4L1122.0 1501.1L1122.5 1498.9L1122.9 1496.6L1123.4 1494.4L1123.9 1492.1L1124.3 1489.8L1124.8 1487.5L1125.2 1485.3L1125.6 1483.0L1126.1 1480.7L1126.5 1478.4L1126.9 1476.1L1127.3 1473.8L1127.7 1471.5L1128.1 1469.2L1128.4 1466.9L1128.8 1464.6L1129.1 1462.3L1129.4 1460.0L1129.7 1457.7L1130.0 1455.4L1130.2 1453.0L1130.5 1450.7L1130.8 1448.4L1131.1 1446.1L1131.4 1443.7L1131.8 1441.4L1132.2 1439.1L1132.6 1436.7L1133.0 1434.4L1133.4 1432.0L1133.9 1429.7L1134.3 1427.3L1134.8 1425.0L1135.2 1422.6L1135.7 1420.3L1136.1 1417.9L1136.5 1415.6L1136.9 1413.2L1137.3 1411.2L1137.6 1409.3L1138.0 1407.3L1138.3 1405.3L1138.7 1403.3L1139.0 1401.4L1139.4 1399.4L1139.7 1397.4L1140.0 1395.4L1140.4 1393.4L1140.7 1391.5L1141.0 1389.5L1141.4 1387.5L1141.7 1385.5L1142.0 1383.5L1142.4 1381.5L1142.7 1379.5L1143.0 1377.5L1143.3 1375.5L1143.6 1373.6L1144.0 1371.6L1144.3 1369.6L1144.6 1367.6L1144.9 1365.6L1145.2 1363.6L1145.5 1361.6L1145.8 1359.6L1146.1 1357.6L1146.4 1355.6L1146.7 1353.6L1147.0 1351.6L1147.3 1349.6L1147.6 1347.6L1147.9 1345.6L1148.2 1343.6L1148.5 1341.5L1148.8 1339.5L1149.1 1337.5L1149.4 1335.5L1149.7 1333.5L1150.0 1331.5L1150.2 1329.5L1150.5 1327.5L1150.8 1325.5L1151.1 1323.5L1151.4 1321.5L1151.6 1319.4L1151.9 1317.4L1152.2 1315.4L1152.5 1313.4L1152.7 1311.4L1153.0 1309.4L1153.3 1307.4L1153.5 1305.3L1153.8 1303.3L1154.1 1301.3L1154.3 1299.3L1154.6 1297.3L1154.8 1295.3L1155.1 1293.3L1155.4 1291.2L1155.6 1289.2L1155.9 1287.2L1156.1 1285.2L1156.4 1283.2L1156.6 1281.2L1156.9 1279.2L1157.2 1277.1L1157.4 1275.1L1157.7 1273.1L1157.9 1271.1L1158.2 1269.1L1158.4 1267.1L1158.7 1265.1L1158.9 1263.0L1159.2 1261.0L1159.4 1259.0L1159.7 1257.0L1159.9 1255.0L1160.2 1253.0L1160.4 1251.0L1160.7 1249.0L1160.9 1246.9L1161.2 1244.9L1161.5 1242.9L1161.7 1240.9L1162.0 1238.9L1162.2 1236.9L1162.5 1234.9L1162.7 1232.9L1163.0 1230.9L1163.2 1228.9L1163.5 1226.8L1163.7 1224.8L1164.0 1222.8L1164.2 1220.8L1164.5 1218.8L1164.7 1216.8L1165.0 1214.8L1165.2 1212.8L1165.5 1210.8L1165.7 1208.8L1166.0 1206.8L1166.2 1204.8L1166.5 1202.8L1166.7 1200.8L1167.0 1198.8L1167.2 1196.8L1167.5 1194.8L1167.8 1192.8L1168.0 1190.7L1168.3 1188.7L1168.5 1186.7L1168.8 1184.7L1169.0 1182.7L1169.3 1180.7L1169.5 1178.7L1169.8 1176.7L1170.0 1174.7L1170.3 1172.7L1170.5 1170.7L1170.8 1168.7L1171.0 1166.7L1171.3 1164.7L1171.5 1162.7L1171.8 1160.7L1172.0 1158.7L1172.3 1156.7L1172.5 1154.7L1172.8 1152.7L1173.0 1150.7L1173.3 1148.7L1173.5 1146.7L1173.8 1144.7L1174.0 1142.7L1174.3 1140.7L1174.5 1138.7L1174.8 1136.7L1175.0 1134.7L1175.3 1132.8L1175.5 1130.8L1175.8 1128.8L1176.1 1126.8L1176.3 1124.8L1176.6 1122.8L1176.8 1120.8L1177.1 1118.8L1177.3 1116.8L1177.5 1114.8L1177.8 1112.8L1178.0 1110.8L1178.3 1108.8L1178.5 1106.8L1178.7 1104.8L1179.0 1102.8L1179.2 1100.8L1179.5 1098.8L1179.7 1096.9L1180.0 1094.9L1180.2 1092.9L1180.4 1090.9L1180.7 1088.9L1180.9 1086.9L1181.2 1084.9L1181.4 1082.9L1181.7 1080.9L1181.9 1078.9L1182.1 1076.9L1182.4 1074.9L1182.6 1073.0L1182.9 1071.0L1183.1 1069.0L1183.4 1067.0L1183.6 1065.0L1183.8 1063.0L1184.1 1061.0L1184.3 1059.0L1184.6 1057.0L1184.8 1055.0L1185.1 1053.1L1185.3 1051.1L1185.6 1049.1L1185.8 1047.1L1186.0 1045.1L1186.3 1043.1L1186.5 1041.1L1186.8 1039.1L1187.0 1037.2L1187.3 1035.2L1187.5 1033.2L1187.8 1031.2L1188.0 1029.2L1188.2 1027.2L1188.5 1025.2L1188.7 1023.3L1189.0 1021.3L1189.2 1019.3L1189.5 1017.3L1189.7 1015.3L1190.0 1013.3L1190.2 1011.3L1190.5 1009.4L1190.7 1007.4L1191.0 1005.4L1191.3 1003.0L1191.6 1000.6L1191.9 998.2L1192.2 995.9L1192.5 993.5L1192.7 991.1L1193.0 988.7L1193.3 986.3L1193.6 984.0L1193.9 981.6L1194.2 979.2L1194.5 976.8L1194.8 974.4L1195.1 972.1L1195.4 969.7L1195.7 967.3L1196.0 964.9L1196.3 962.5L1196.6 960.2L1197.0 957.8L1197.3 955.4L1197.6 953.0L1197.9 950.7L1198.2 948.3L1198.5 945.9L1198.8 943.5L1199.1 941.1L1199.4 938.8L1199.7 936.4L1200.0 934.0L1200.3 931.6L1200.6 929.3L1200.9 926.9L1201.2 924.5L1201.5 922.1L1201.8 919.8L1202.1 917.4L1202.4 915.0L1202.7 912.6L1203.1 910.3L1203.4 907.9L1203.7 905.5L1204.0 903.1L1204.3 900.8L1204.6 898.4L1204.9 896.0L1205.2 893.6L1205.5 891.3L1205.8 888.9L1206.1 886.5L1206.5 884.1L1206.8 881.8L1207.1 879.4L1207.4 877.0L1207.7 874.7L1208.0 872.3L1208.3 869.9L1208.7 867.5L1209.0 865.2L1209.3 862.8L1209.6 860.4L1209.9 858.0L1210.2 855.7L1210.6 853.3L1210.9 850.9L1211.2 848.5L1211.5 846.2L1211.8 843.8L1212.1 841.4L1212.5 839.1L1212.8 836.7L1213.1 834.3L1213.4 831.9L1213.7 829.6L1214.1 827.2L1214.4 824.8L1214.7 822.5L1215.0 820.1L1215.4 817.7L1215.7 815.3L1216.0 813.0L1216.3 810.6L1216.7 808.2L1217.0 805.9L1217.3 803.5L1217.6 801.1L1218.0 798.7L1218.3 796.4L1218.6 794.0L1218.9 791.6L1219.3 789.3L1219.6 786.9L1219.9 784.5L1220.3 782.1L1220.6 779.8L1220.9 777.4L1221.2 775.0L1221.6 772.7L1221.9 770.3L1222.2 767.9L1222.6 765.5L1222.9 763.2L1223.3 760.8L1223.6 758.4L1223.9 756.1L1224.3 753.7L1224.6 751.3L1224.9 748.9L1225.3 746.6L1225.6 744.2L1225.9 741.8L1226.3 739.5L1226.6 737.1L1227.0 734.7L1227.3 732.3L1227.7 730.0L1228.0 727.6L1228.3 725.2L1228.7 722.9L1229.0 720.5L1229.4 718.1L1229.7 715.7L1230.1 713.4L1230.4 711.0L1230.8 708.6L1231.1 706.3L1231.4 703.9L1231.8 701.5L1232.1 699.1L1232.5 696.8L1232.8 694.4L1233.2 692.0L1233.5 689.7L1233.9 687.3L1234.3 684.9L1234.6 682.5L1235.0 680.2L1235.3 677.8L1235.7 675.4L1236.0 673.0L1236.4 670.7L1236.7 668.3L1237.1 665.9L1237.5 663.6L1237.8 661.2L1238.1 659.2L1238.4 657.2L1238.7 655.2L1239.0 653.3L1239.3 651.3L1239.6 649.3L1239.9 647.3L1240.2 645.4L1240.5 643.4L1240.8 641.4L1241.1 639.4L1241.4 637.4L1241.7 635.5L1242.0 633.5L1242.4 631.5L1242.7 629.5L1243.0 627.5L1243.3 625.6L1243.6 623.6L1243.9 621.6L1244.2 619.6L1244.5 617.7L1244.8 615.7L1245.1 613.7L1245.4 611.7L1245.7 609.7L1246.1 607.8L1246.4 605.8L1246.7 603.8L1247.0 601.8L1247.3 599.8L1247.6 597.9L1247.9 595.9L1248.3 593.9L1248.6 591.9L1248.9 589.9L1249.2 588.0L1249.5 586.0L1249.8 584.0L1250.2 582.0L1250.5 580.0L1250.8 578.0L1251.1 576.1L1251.4 574.1L1251.8 572.1L1252.1 570.1L1252.4 568.1L1252.7 566.2L1253.0 564.2L1253.4 562.2L1253.7 560.2L1254.0 558.2L1254.3 556.2L1254.7 554.3L1255.0 552.3L1255.3 550.3L1255.6 548.3L1256.0 546.3L1256.3 544.3L1256.6 542.4L1257.0 540.4L1257.3 538.4L1257.6 536.4L1257.9 534.4L1258.3 532.4L1258.6 530.5L1258.9 528.5L1259.3 526.5L1259.6 524.5L1259.9 522.5L1260.3 520.5L1260.6 518.5L1260.9 516.6L1261.3 514.6L1261.6 512.6L1261.9 510.6L1262.3 508.6L1262.6 506.6L1263.0 504.7L1263.3 502.9L1263.7 501.1L1264.1 499.3L1264.5 497.2L1264.9 494.8L1265.2 493.0L1265.6 490.9L1266.0 488.8L1266.3 486.5L1266.7 484.2L1267.1 481.9L1267.5 479.8L1267.9 477.8L1268.3 476.0L1269.0 473.2L1269.6 470.8L1270.3 468.7L1270.9 466.8L1271.5 465.0L1272.4 462.3L1273.3 460.0L1274.0 458.2L1274.9 456.3L1275.7 455.5L1276.5 456.3L1277.4 458.2L1278.1 460.0L1278.9 462.3L1279.8 465.0L1280.3 466.8L1280.9 468.7L1281.5 470.8L1282.1 473.2L1282.8 476.0L1283.2 477.8L1283.7 479.8L1284.2 482.0L1284.7 484.3L1285.2 486.6L1285.7 488.9L1286.2 491.1L1286.6 493.2L1287.0 495.0L1287.1 495.3" stroke="#f00" stroke-width="8.8" stroke-dasharray="34.80 48.53" stroke-dashoffset="55.81" stroke-linecap="round"/><path d="M1287.1 495.3L1287.5 497.4L1287.9 499.5L1288.2 501.4L1288.5 503.2L1288.8 504.9L1289.1 506.8L1289.5 508.8L1289.8 510.8L1290.1 512.8L1290.4 514.8L1290.7 516.8L1291.0 518.8L1291.3 520.8L1291.6 522.8L1291.9 524.8L1292.1 526.8L1292.4 528.8L1292.7 530.8L1293.0 532.8L1293.3 534.8L1293.6 536.8L1293.9 538.8L1294.2 540.8L1294.5 542.7L1294.8 544.7L1295.1 546.7L1295.4 548.7L1295.7 550.7L1295.9 552.7L1296.2 554.7L1296.5 556.7L1296.8 558.7L1297.1 560.7L1297.4 562.7L1297.6 564.6L1297.9 566.6L1298.2 568.6L1298.5 570.6L1298.8 572.6L1299.0 574.6L1299.3 576.6L1299.6 578.6L1299.9 580.6L1300.1 582.5L1300.4 584.5L1300.7 586.5L1301.0 588.5L1301.2 590.5L1301.5 592.5L1301.8 594.5L1302.0 596.5L1302.3 598.4L1302.6 600.4L1302.8 602.4L1303.1 604.4L1303.4 606.4L1303.6 608.4L1303.9 610.3L1304.2 612.3L1304.4 614.3L1304.7 616.3L1304.9 618.3L1305.2 620.3L1305.5 622.3L1305.7 624.2L1306.0 626.2L1306.3 628.6L1306.6 631.0L1306.9 633.4L1307.2 635.7L1307.5 638.1L1307.8 640.5L1308.1 642.9L1308.4 645.3L1308.7 647.6L1309.0 650.0L1309.3 652.4L1309.6 654.8L1309.9 657.1L1310.2 659.5L1310.5 661.9L1310.8 664.3L1311.1 666.6L1311.4 669.0L1311.6 671.4L1311.9 673.8L1312.2 676.1L1312.5 678.5L1312.8 680.9L1313.1 683.3L1313.4 685.6L1313.6 688.0L1313.9 690.4L1314.2 692.8L1314.5 695.1L1314.8 697.5L1315.0 699.9L1315.3 702.3L1315.6 704.6L1315.9 707.0L1316.1 709.4L1316.4 711.8L1316.7 714.1L1317.0 716.5L1317.2 718.9L1317.5 721.3L1317.8 723.6L1318.0 726.0L1318.3 728.4L1318.6 730.7L1318.8 733.1L1319.1 735.5L1319.4 737.9L1319.6 740.2L1319.9 742.6L1320.1 745.0L1320.4 747.3L1320.6 749.7L1320.9 752.1L1321.1 754.5L1321.4 756.8L1321.6 759.2L1321.8 761.6L1322.1 763.9L1322.3 766.3L1322.5 768.7L1322.8 771.1L1323.0 773.4L1323.2 775.8L1323.5 778.2L1323.7 780.5L1323.9 782.9L1324.2 785.3L1324.4 787.7L1324.6 790.0L1324.9 792.4L1325.1 794.8L1325.3 797.1L1325.6 799.5L1325.8 801.9L1326.0 804.3L1326.3 806.6L1326.5 809.0L1326.7 811.4L1326.9 813.7L1327.2 816.1L1327.4 818.5L1327.6 820.9L1327.8 823.2L1328.1 825.6L1328.3 828.0L1328.5 830.3L1328.7 832.7L1329.0 835.1L1329.2 837.5L1329.4 839.8L1329.6 842.2L1329.8 844.6L1330.1 846.9L1330.3 849.3L1330.5 851.7L1330.7 854.1L1330.9 856.4L1331.2 858.8L1331.4 861.2L1331.6 863.6L1331.8 865.9L1332.0 868.3L1332.2 870.7L1332.5 873.0L1332.7 875.4L1332.9 877.8L1333.1 880.2L1333.3 882.5L1333.5 884.9L1333.7 887.3L1333.9 889.7L1334.2 892.0L1334.4 894.4L1334.6 896.8L1334.8 899.2L1335.0 901.5L1335.2 903.9L1335.4 906.3L1335.6 908.7L1335.8 911.0L1336.1 913.4L1336.3 915.8L1336.5 918.2L1336.7 920.5L1336.9 922.9L1337.1 925.3L1337.3 927.7L1337.5 930.1L1337.7 932.4L1337.9 934.8L1338.1 937.2L1338.3 939.6L1338.5 941.9L1338.7 944.3L1338.9 946.7L1339.1 949.1L1339.4 951.5L1339.6 953.8L1339.8 956.2L1340.0 958.6L1340.2 961.0L1340.4 963.4L1340.6 965.7L1340.8 968.1L1341.0 970.5L1341.2 972.9L1341.4 975.3L1341.6 977.6L1341.8 980.0L1342.0 982.4L1342.2 984.8L1342.4 987.2L1342.6 989.6L1342.8 991.9L1343.0 994.3L1343.2 996.7L1343.4 999.1L1343.6 1001.5L1343.8 1003.9L1344.0 1006.3L1344.2 1008.6L1344.4 1011.0L1344.6 1013.4L1344.8 1015.8L1344.9 1018.2L1345.1 1020.6L1345.3 1023.0L1345.5 1025.4L1345.7 1027.7L1345.9 1030.1L1346.1 1032.5L1346.3 1034.9L1346.5 1037.3L1346.7 1039.7L1346.9 1042.1L1347.1 1044.1L1347.2 1046.1L1347.4 1048.1L1347.6 1050.1L1347.7 1052.1L1347.9 1054.0L1348.0 1056.0L1348.2 1058.0L1348.4 1060.0L1348.5 1062.0L1348.7 1064.0L1348.8 1066.0L1349.0 1068.0L1349.2 1070.0L1349.3 1072.0L1349.5 1074.0L1349.6 1076.0L1349.8 1078.0L1350.0 1080.0L1350.1 1082.0L1350.3 1084.0L1350.4 1086.0L1350.6 1088.0L1350.8 1090.0L1350.9 1092.0L1351.1 1094.0L1351.2 1096.0L1351.4 1098.0L1351.6 1100.0L1351.7 1102.0L1351.9 1104.0L1352.0 1106.0L1352.2 1108.0L1352.4 1110.0L1352.5 1112.0L1352.7 1114.0L1352.8 1116.0L1353.0 1118.0L1353.2 1120.0L1353.3 1122.0L1353.5 1124.0L1353.6 1126.0L1353.8 1128.0L1354.0 1130.0L1354.1 1132.1L1354.3 1134.1L1354.5 1136.1L1354.7 1138.1L1354.8 1140.1L1355.0 1142.1L1355.2 1144.1L1355.4 1146.1L1355.6 1148.1L1355.7 1150.1L1355.9 1152.1L1356.1 1154.1L1356.3 1156.2L1356.5 1158.2L1356.7 1160.2L1356.9 1162.2L1357.1 1164.2L1357.2 1166.2L1357.4 1168.2L1357.6 1170.2L1357.8 1172.3L1358.0 1174.3L1358.2 1176.3L1358.4 1178.3L1358.6 1180.3L1358.8 1182.3L1359.0 1184.4L1359.2 1186.4L1359.4 1188.4L1359.6 1190.4L1359.8 1192.4L1360.0 1194.4L1360.3 1196.5L1360.5 1198.5L1360.7 1200.5L1360.9 1202.5L1361.1 1204.5L1361.3 1206.6L1361.5 1208.6L1361.7 1210.6L1361.9 1212.6L1362.1 1214.6L1362.3 1216.7L1362.5 1218.7L1362.8 1220.7L1363.0 1222.7L1363.2 1224.8L1363.4 1226.8L1363.6 1228.8L1363.8 1230.8L1364.0 1232.9L1364.2 1234.9L1364.4 1236.9L1364.7 1239.0L1364.9 1241.0L1365.1 1243.0L1365.3 1245.0L1365.5 1247.1L1365.7 1249.1L1365.9 1251.1L1366.1 1253.2L1366.3 1255.2L1366.5 1257.2L1366.7 1259.3L1367.0 1261.3L1367.2 1263.3L1367.4 1265.4L1367.6 1267.4L1367.8 1269.4L1368.0 1271.5L1368.2 1273.5L1368.4 1275.5L1368.6 1277.6L1368.8 1279.6L1369.0 1281.7L1369.2 1283.7L1369.5 1285.7L1369.7 1287.8L1369.9 1289.8L1370.1 1291.8L1370.4 1293.9L1370.6 1295.9L1370.8 1298.0L1371.0 1300.0L1371.3 1302.0L1371.5 1304.1L1371.7 1306.1L1372.0 1308.1L1372.2 1310.2L1372.4 1312.2L1372.7 1314.3L1372.9 1316.3L1373.1 1318.3L1373.4 1320.4L1373.6 1322.4L1373.9 1324.4L1374.1 1326.5L1374.4 1328.5L1374.6 1330.5L1374.9 1332.6L1375.1 1334.6L1375.4 1336.6L1375.6 1338.7L1375.9 1340.7L1376.1 1342.7L1376.4 1344.7L1376.6 1346.8L1376.9 1348.8L1377.1 1350.8L1377.4 1352.9L1377.6 1354.9L1377.9 1356.9L1378.1 1358.9L1378.4 1360.9L1378.7 1363.0L1378.9 1365.0L1379.2 1367.0L1379.4 1369.0L1379.7 1371.0L1380.0 1373.1L1380.2 1375.1L1380.5 1377.1L1380.7 1379.1L1381.0 1381.1L1381.3 1383.1L1381.5 1385.1L1381.8 1387.1L1382.1 1389.1L1382.3 1391.1L1382.6 1393.1L1382.8 1395.1L1383.1 1397.1L1383.4 1399.1L1383.6 1401.1L1383.9 1403.1L1384.1 1405.1L1384.4 1407.1L1384.6 1409.1L1384.8 1411.1L1385.0 1413.1L1385.2 1415.1L1385.4 1417.1L1385.7 1419.4L1385.9 1421.8L1386.2 1424.2L1386.5 1426.5L1386.7 1428.9L1387.0 1431.3L1387.3 1433.6L1387.6 1436.0L1388.0 1438.3L1388.3 1440.7L1388.7 1443.0L1389.0 1445.4L1389.4 1447.7L1389.8 1450.1L1390.2 1452.4L1390.5 1454.7L1390.9 1457.1L1391.3 1459.4L1391.7 1461.7L1392.1 1464.0L1392.5 1466.3L1392.9 1468.6L1393.3 1471.0L1393.7 1473.3L1394.0 1475.6L1394.4 1477.8L1394.7 1480.1L1395.1 1482.4L1395.5 1484.7L1395.8 1487.0L1396.2 1489.3L1396.5 1491.5L1396.9 1493.8L1397.3 1496.1L1397.7 1498.3L1398.1 1500.6L1398.5 1502.8L1398.9 1505.1L1399.4 1507.3L1399.9 1509.5L1400.4 1511.8L1400.8 1514.0L1401.3 1516.2L1401.9 1518.4L1402.4 1520.6L1402.9 1522.8L1403.4 1525.0L1403.9 1527.2L1404.4 1529.4L1405.0 1531.6L1405.5 1533.8L1406.0 1535.9L1406.4 1538.1L1406.9 1540.3L1407.4 1542.4L1407.9 1544.6L1408.4 1546.7L1408.9 1548.8L1409.5 1550.9L1410.0 1553.0L1410.6 1555.0L1411.2 1557.1L1411.7 1559.1L1412.4 1561.0L1413.0 1563.0L1413.8 1564.9L1414.6 1566.7L1415.2 1567.8" stroke="#f00" stroke-width="8.8" stroke-dasharray="34.80 48.53" stroke-dashoffset="57.85" stroke-linecap="round"/><path d="M1415.2 1567.8L1415.6 1568.6L1416.6 1570.3L1417.6 1572.1L1418.8 1573.8L1420.0 1575.4L1421.4 1577.0L1422.9 1578.5L1424.6 1580.0L1426.4 1581.4L1428.4 1582.8L1430.6 1584.1L1432.9 1585.3L1435.3 1586.4L1437.4 1587.3L1439.6 1588.2L1441.9 1589.0L1444.3 1589.7L1446.9 1590.4L1449.5 1591.1L1452.1 1591.6L1454.8 1592.1L1457.4 1592.6L1460.1 1593.0L1462.7 1593.3L1465.3 1593.6L1467.5 1593.7L1469.9 1593.8L1472.3 1593.8L1474.6 1593.8L1476.7 1593.7L1478.4 1593.7L1479.7 1593.7L1541.0 1593.4" stroke="#f00" stroke-width="8.8" stroke-dasharray="34.80 48.53" stroke-dashoffset="61.87" stroke-linecap="round"/></g>
<g font-weight="bold" font-size="56" fill="#000">
<text x="230" y="1426.7" text-anchor="end" letter-spacing="2.3">500</text>
<text x="230" y="975.8" text-anchor="end" letter-spacing="2.3">1000</text>
<text x="230" y="524.9" text-anchor="end" letter-spacing="2.3">1500</text>
<text x="230" y="74.0" text-anchor="end" letter-spacing="2.3">2000</text>
<text x="262.8" y="1674.5" text-anchor="middle" letter-spacing="2.6">3.5</text>
<text x="592.3" y="1674.5" text-anchor="middle" letter-spacing="2.6">4.0</text>
<text x="921.8" y="1674.5" text-anchor="middle" letter-spacing="2.6">4.5</text>
<text x="1251.3" y="1674.5" text-anchor="middle" letter-spacing="2.6">5.0</text>
<text x="1580.8" y="1674.5" text-anchor="middle" letter-spacing="2.6">5.5</text>
<text x="1910.3" y="1674.5" text-anchor="middle" letter-spacing="2.6">6.0</text>
<text x="2239.8" y="1674.5" text-anchor="middle" letter-spacing="2.6">6.5</text>
</g>
<text x="1296.3" y="1767" font-size="85" text-anchor="middle" letter-spacing="0.45">distance (cm)</text>
<text transform="translate(88.0 796.8) rotate(-90)" font-size="85" text-anchor="middle" letter-spacing="0.55">Temperture(K)</text>
<line x1="1700" y1="188.4" x2="1916.8" y2="188.4" stroke="#000" stroke-width="8.8" stroke-linecap="round"/>
<line x1="1700" y1="307" x2="1916.8" y2="307" stroke="#f00" stroke-width="8.8" stroke-linecap="round" stroke-dasharray="34.2 49.3"/>
<text x="1940.5" y="220" font-size="96" letter-spacing="1.2">ADI</text>
<text x="1939.6" y="339.3" font-size="96" letter-spacing="1.5">SNB</text>
<g font-size="75">
<text x="357" y="236" letter-spacing="0.2">Flame thickness(SNB)</text>
<text y="337.5"><tspan x="357.4">a=</tspan><tspan letter-spacing="1.5">10</tspan>s<tspan x="538" dy="-30" font-size="50"><tspan font-weight="bold">−</tspan>1</tspan><tspan x="612" dy="30">:</tspan><tspan x="649.1" fill="#f00" letter-spacing="1.6">7.59</tspan><tspan x="800.8">mm</tspan></text>
<text y="440.5"><tspan x="357.4">a=</tspan><tspan letter-spacing="1.5">80</tspan>s<tspan x="538" dy="-30" font-size="50"><tspan font-weight="bold">−</tspan>1</tspan><tspan x="612" dy="30">:</tspan><tspan x="649.1" fill="#f00" letter-spacing="1.6">2.81</tspan><tspan x="800.8">mm</tspan></text>
</g>
<path d="M1032.5 728.4L1037.4 715.8M1066.9 687.2L1078.5 680.3M1110.3 666.1L1123.0 661.6M1156.5 652.2L1169.6 649.3M1206.1 642.9L1219.5 641.1M1253.7 637.8L1267.2 637.0M1303.7 636.0L1317.2 636.0M1352.9 637.4L1366.3 638.4M1401.6 642.2L1414.9 644.2M1450.0 650.8L1463.1 653.9M1498.7 664.7L1511.3 669.6M1545.2 686.8L1556.1 694.7M1579.4 725.3L1580.8 738.7M1565.3 769.0L1555.3 778.0M1528.3 794.7L1516.1 800.4M1483.4 812.4L1470.4 816.1M1434.3 824.5L1421.0 826.9M1386.5 831.7L1373.0 833.0M1336.8 835.4L1323.3 835.8M1288.1 835.8L1274.6 835.4M1238.0 832.9L1224.6 831.5M1189.1 826.4L1175.8 824.0M1140.3 815.6L1127.3 811.8M1092.5 798.7L1080.4 792.7M1047.1 768.8L1038.7 758.2M1161.3 1051.5L1173.4 1045.4M1206.0 1034.0L1219.2 1031.2M1255.1 1027.9L1268.6 1028.2M1304.3 1033.4L1317.3 1036.9M1353.0 1052.3L1364.4 1059.5M1392.4 1086.0L1399.9 1097.3M1411.1 1130.3L1411.7 1143.8M1404.5 1174.5L1398.3 1186.5M1370.5 1217.0L1359.5 1224.8M1329.1 1240.0L1316.3 1244.4M1282.4 1251.5L1268.9 1252.7M1233.6 1251.9L1220.2 1250.0M1183.6 1239.9L1171.2 1234.6M1136.2 1211.7L1126.6 1202.2M1110.0 1177.8L1105.0 1165.2M1101.8 1130.6L1104.5 1117.3M1125.1 1080.5L1134.5 1070.8" fill="none" stroke="#00f" stroke-width="7.5"/>
<line x1="1608.6" y1="736.4" x2="1796.6" y2="736.4" stroke="#00f" stroke-width="4.2"/><polygon points="1833.6,736.4 1776.6,722.2 1794.6,736.4 1776.6,750.6" fill="#00f"/>
<line x1="1444.0" y1="1138.5" x2="1788.8" y2="1141.7" stroke="#00f" stroke-width="4.2"/><polygon points="1825.8,1142.0 1768.9,1127.3 1786.8,1141.6 1768.7,1155.7" fill="#00f"/>
<g font-size="85" fill="#00f">
<text x="1854.5" y="762.0">a=10s<tspan font-size="57" dy="-33" dx="1"><tspan font-weight="bold">−</tspan>1</tspan></text>
<text x="1854.5" y="1177.0">a=80s<tspan font-size="57" dy="-33" dx="1"><tspan font-weight="bold">−</tspan>1</tspan></text>
</g>
</svg></body></html>
